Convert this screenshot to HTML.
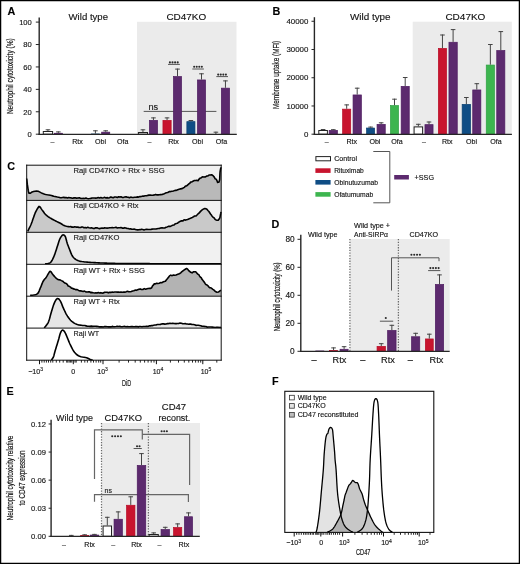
<!DOCTYPE html>
<html><head><meta charset="utf-8"><style>
html,body{margin:0;padding:0;background:#fff;}
svg{display:block;font-family:"Liberation Sans", sans-serif;}
text{stroke:#1a1a1a;stroke-width:0.14px;}
text.s{stroke-width:0.2px;}
text.n{stroke:none;}
svg{will-change:transform;}
</style></head><body>
<svg width="520" height="564" viewBox="0 0 520 564">
<rect x="0" y="0" width="520" height="564" fill="#fff"/>
<text x="7.4" y="14.6" font-size="10.8" text-anchor="start" font-weight="bold" fill="#000">A</text>
<rect x="137.00" y="21.80" width="99.50" height="112.60" fill="#ebebeb"/>
<text x="88.3" y="19.9" font-size="9.8" text-anchor="middle" font-weight="normal" fill="#111" textLength="39.5" lengthAdjust="spacingAndGlyphs">Wild type</text>
<text x="186.3" y="19.8" font-size="9.8" text-anchor="middle" font-weight="normal" fill="#111" textLength="39.8" lengthAdjust="spacingAndGlyphs">CD47KO</text>
<text class="s" transform="translate(12.9,76.2) rotate(-90) scale(0.7471,1)" x="0" y="0" font-size="8.8" text-anchor="middle" fill="#111">Neutrophil cytotoxicity (%)</text>
<line x1="35.8" y1="134.20" x2="39.5" y2="134.20" stroke="#262626" stroke-width="1"/>
<text x="31.8" y="137.00" font-size="7.6" text-anchor="end" font-weight="normal" fill="#111">0</text>
<line x1="35.8" y1="111.78" x2="39.5" y2="111.78" stroke="#262626" stroke-width="1"/>
<text x="31.8" y="114.58" font-size="7.6" text-anchor="end" font-weight="normal" fill="#111">20</text>
<line x1="35.8" y1="89.36" x2="39.5" y2="89.36" stroke="#262626" stroke-width="1"/>
<text x="31.8" y="92.16" font-size="7.6" text-anchor="end" font-weight="normal" fill="#111">40</text>
<line x1="35.8" y1="66.94" x2="39.5" y2="66.94" stroke="#262626" stroke-width="1"/>
<text x="31.8" y="69.74" font-size="7.6" text-anchor="end" font-weight="normal" fill="#111">60</text>
<line x1="35.8" y1="44.52" x2="39.5" y2="44.52" stroke="#262626" stroke-width="1"/>
<text x="31.8" y="47.32" font-size="7.6" text-anchor="end" font-weight="normal" fill="#111">80</text>
<line x1="35.8" y1="22.10" x2="39.5" y2="22.10" stroke="#262626" stroke-width="1"/>
<text x="31.8" y="24.90" font-size="7.6" text-anchor="end" font-weight="normal" fill="#111">100</text>
<line x1="143.7" y1="111.4" x2="216.4" y2="111.4" stroke="#555" stroke-width="1"/>
<rect x="43.30" y="131.50" width="9.30" height="2.70" fill="#fff" stroke="#222" stroke-width="1"/>
<line x1="47.95" y1="129.30" x2="47.95" y2="131.00" stroke="#444" stroke-width="1"/>
<line x1="45.65" y1="129.80" x2="50.25" y2="129.80" stroke="#444" stroke-width="1"/>
<rect x="54.25" y="133.25" width="8.20" height="0.95" fill="#5c2a6e" stroke="#4e1c60" stroke-width="0.7"/>
<line x1="58.35" y1="131.40" x2="58.35" y2="132.90" stroke="#444" stroke-width="1"/>
<line x1="56.05" y1="131.90" x2="60.65" y2="131.90" stroke="#444" stroke-width="1"/>
<rect x="91.35" y="133.95" width="8.10" height="0.25" fill="#0f4d85" stroke="#0a4070" stroke-width="0.7"/>
<line x1="95.40" y1="130.30" x2="95.40" y2="133.60" stroke="#444" stroke-width="1"/>
<line x1="93.10" y1="130.80" x2="97.70" y2="130.80" stroke="#444" stroke-width="1"/>
<rect x="101.65" y="132.15" width="8.10" height="2.05" fill="#5c2a6e" stroke="#4e1c60" stroke-width="0.7"/>
<line x1="105.70" y1="130.30" x2="105.70" y2="131.80" stroke="#444" stroke-width="1"/>
<line x1="103.40" y1="130.80" x2="108.00" y2="130.80" stroke="#444" stroke-width="1"/>
<rect x="138.40" y="132.50" width="9.10" height="1.70" fill="#fff" stroke="#222" stroke-width="1"/>
<line x1="142.95" y1="129.30" x2="142.95" y2="132.00" stroke="#444" stroke-width="1"/>
<line x1="140.65" y1="129.80" x2="145.25" y2="129.80" stroke="#444" stroke-width="1"/>
<rect x="149.35" y="120.35" width="8.20" height="13.85" fill="#5c2a6e" stroke="#4e1c60" stroke-width="0.7"/>
<line x1="153.45" y1="117.40" x2="153.45" y2="120.00" stroke="#444" stroke-width="1"/>
<line x1="151.15" y1="117.90" x2="155.75" y2="117.90" stroke="#444" stroke-width="1"/>
<rect x="162.95" y="120.35" width="8.20" height="13.85" fill="#c8142e" stroke="#b80c26" stroke-width="0.7"/>
<line x1="167.05" y1="117.40" x2="167.05" y2="120.00" stroke="#444" stroke-width="1"/>
<line x1="164.75" y1="117.90" x2="169.35" y2="117.90" stroke="#444" stroke-width="1"/>
<rect x="173.45" y="76.55" width="8.10" height="57.65" fill="#5c2a6e" stroke="#4e1c60" stroke-width="0.7"/>
<line x1="177.50" y1="68.60" x2="177.50" y2="76.20" stroke="#444" stroke-width="1"/>
<line x1="175.20" y1="69.10" x2="179.80" y2="69.10" stroke="#444" stroke-width="1"/>
<rect x="186.85" y="121.65" width="8.10" height="12.55" fill="#0f4d85" stroke="#0a4070" stroke-width="0.7"/>
<line x1="190.90" y1="120.00" x2="190.90" y2="121.30" stroke="#444" stroke-width="1"/>
<line x1="188.60" y1="120.50" x2="193.20" y2="120.50" stroke="#444" stroke-width="1"/>
<rect x="197.45" y="79.95" width="8.10" height="54.25" fill="#5c2a6e" stroke="#4e1c60" stroke-width="0.7"/>
<line x1="201.50" y1="73.30" x2="201.50" y2="79.60" stroke="#444" stroke-width="1"/>
<line x1="199.20" y1="73.80" x2="203.80" y2="73.80" stroke="#444" stroke-width="1"/>
<line x1="215.90" y1="131.70" x2="215.90" y2="134.20" stroke="#444" stroke-width="1"/>
<line x1="213.60" y1="132.20" x2="218.20" y2="132.20" stroke="#444" stroke-width="1"/>
<rect x="221.35" y="88.15" width="8.20" height="46.05" fill="#5c2a6e" stroke="#4e1c60" stroke-width="0.7"/>
<line x1="225.45" y1="80.40" x2="225.45" y2="87.80" stroke="#444" stroke-width="1"/>
<line x1="223.15" y1="80.90" x2="227.75" y2="80.90" stroke="#444" stroke-width="1"/>
<line x1="39.2" y1="17.6" x2="39.2" y2="134.9" stroke="#262626" stroke-width="1.4"/>
<line x1="38.5" y1="134.4" x2="236.8" y2="134.4" stroke="#262626" stroke-width="1.3"/>
<text x="52.6" y="143.8" font-size="7.1" text-anchor="middle" font-weight="normal" fill="#111">–</text>
<text x="77.5" y="143.8" font-size="7.1" text-anchor="middle" font-weight="normal" fill="#111">Rtx</text>
<text x="100.6" y="143.8" font-size="7.1" text-anchor="middle" font-weight="normal" fill="#111">Obi</text>
<text x="122.8" y="143.8" font-size="7.1" text-anchor="middle" font-weight="normal" fill="#111">Ofa</text>
<text x="149.5" y="143.8" font-size="7.1" text-anchor="middle" font-weight="normal" fill="#111">–</text>
<text x="173.5" y="143.8" font-size="7.1" text-anchor="middle" font-weight="normal" fill="#111">Rtx</text>
<text x="197.5" y="143.8" font-size="7.1" text-anchor="middle" font-weight="normal" fill="#111">Obi</text>
<text x="221.5" y="143.8" font-size="7.1" text-anchor="middle" font-weight="normal" fill="#111">Ofa</text>
<text x="153.3" y="110" font-size="9.2" text-anchor="middle" font-weight="normal" fill="#222">ns</text>
<circle cx="169.90" cy="62.40" r="1.05" fill="#2a2a2a"/>
<circle cx="172.50" cy="62.40" r="1.05" fill="#2a2a2a"/>
<circle cx="175.10" cy="62.40" r="1.05" fill="#2a2a2a"/>
<circle cx="177.70" cy="62.40" r="1.05" fill="#2a2a2a"/>
<line x1="168.00" y1="64.4" x2="179.90" y2="64.4" stroke="#555" stroke-width="1"/>
<circle cx="194.18" cy="66.70" r="1.05" fill="#2a2a2a"/>
<circle cx="196.72" cy="66.70" r="1.05" fill="#2a2a2a"/>
<circle cx="199.28" cy="66.70" r="1.05" fill="#2a2a2a"/>
<circle cx="201.82" cy="66.70" r="1.05" fill="#2a2a2a"/>
<line x1="192.30" y1="69.0" x2="203.90" y2="69.0" stroke="#555" stroke-width="1"/>
<circle cx="218.19" cy="74.60" r="1.05" fill="#2a2a2a"/>
<circle cx="220.76" cy="74.60" r="1.05" fill="#2a2a2a"/>
<circle cx="223.34" cy="74.60" r="1.05" fill="#2a2a2a"/>
<circle cx="225.91" cy="74.60" r="1.05" fill="#2a2a2a"/>
<line x1="216.30" y1="76.6" x2="228.00" y2="76.6" stroke="#555" stroke-width="1"/>
<text x="272.6" y="14.5" font-size="10.8" text-anchor="start" font-weight="bold" fill="#000">B</text>
<rect x="412.70" y="21.70" width="99.10" height="112.70" fill="#ebebeb"/>
<text x="370.3" y="19.8" font-size="9.8" text-anchor="middle" font-weight="normal" fill="#111" textLength="40.6" lengthAdjust="spacingAndGlyphs">Wild type</text>
<text x="465.4" y="19.8" font-size="9.8" text-anchor="middle" font-weight="normal" fill="#111" textLength="40.0" lengthAdjust="spacingAndGlyphs">CD47KO</text>
<text class="s" transform="translate(279.1,74.9) rotate(-90) scale(0.7236,1)" x="0" y="0" font-size="8.8" text-anchor="middle" fill="#111">Membrane uptake (MFI)</text>
<line x1="311.5" y1="134.20" x2="314.8" y2="134.20" stroke="#262626" stroke-width="1"/>
<text x="308.4" y="136.80" font-size="7.9" text-anchor="end" font-weight="normal" fill="#111">0</text>
<line x1="311.5" y1="105.97" x2="314.8" y2="105.97" stroke="#262626" stroke-width="1"/>
<text x="308.4" y="108.57" font-size="7.9" text-anchor="end" font-weight="normal" fill="#111">10000</text>
<line x1="311.5" y1="77.74" x2="314.8" y2="77.74" stroke="#262626" stroke-width="1"/>
<text x="308.4" y="80.34" font-size="7.9" text-anchor="end" font-weight="normal" fill="#111">20000</text>
<line x1="311.5" y1="49.51" x2="314.8" y2="49.51" stroke="#262626" stroke-width="1"/>
<text x="308.4" y="52.11" font-size="7.9" text-anchor="end" font-weight="normal" fill="#111">30000</text>
<line x1="311.5" y1="21.28" x2="314.8" y2="21.28" stroke="#262626" stroke-width="1"/>
<text x="308.4" y="23.88" font-size="7.9" text-anchor="end" font-weight="normal" fill="#111">40000</text>
<rect x="318.80" y="130.50" width="8.60" height="3.70" fill="#fff" stroke="#222" stroke-width="1"/>
<line x1="323.10" y1="129.00" x2="323.10" y2="130.00" stroke="#444" stroke-width="1"/>
<line x1="320.80" y1="129.50" x2="325.40" y2="129.50" stroke="#444" stroke-width="1"/>
<rect x="329.15" y="130.35" width="8.30" height="3.85" fill="#5c2a6e" stroke="#4e1c60" stroke-width="0.7"/>
<line x1="333.30" y1="129.20" x2="333.30" y2="130.00" stroke="#444" stroke-width="1"/>
<line x1="331.00" y1="129.70" x2="335.60" y2="129.70" stroke="#444" stroke-width="1"/>
<rect x="342.65" y="109.15" width="8.10" height="25.05" fill="#c8142e" stroke="#b80c26" stroke-width="0.7"/>
<line x1="346.70" y1="104.40" x2="346.70" y2="108.80" stroke="#444" stroke-width="1"/>
<line x1="344.40" y1="104.90" x2="349.00" y2="104.90" stroke="#444" stroke-width="1"/>
<rect x="353.05" y="94.95" width="8.30" height="39.25" fill="#5c2a6e" stroke="#4e1c60" stroke-width="0.7"/>
<line x1="357.20" y1="87.70" x2="357.20" y2="94.60" stroke="#444" stroke-width="1"/>
<line x1="354.90" y1="88.20" x2="359.50" y2="88.20" stroke="#444" stroke-width="1"/>
<rect x="366.55" y="128.05" width="8.10" height="6.15" fill="#0f4d85" stroke="#0a4070" stroke-width="0.7"/>
<line x1="370.60" y1="126.60" x2="370.60" y2="127.70" stroke="#444" stroke-width="1"/>
<line x1="368.30" y1="127.10" x2="372.90" y2="127.10" stroke="#444" stroke-width="1"/>
<rect x="377.05" y="124.35" width="8.20" height="9.85" fill="#5c2a6e" stroke="#4e1c60" stroke-width="0.7"/>
<line x1="381.15" y1="122.30" x2="381.15" y2="124.00" stroke="#444" stroke-width="1"/>
<line x1="378.85" y1="122.80" x2="383.45" y2="122.80" stroke="#444" stroke-width="1"/>
<rect x="390.45" y="105.55" width="8.10" height="28.65" fill="#3db54f" stroke="#2fa043" stroke-width="0.7"/>
<line x1="394.50" y1="98.70" x2="394.50" y2="105.20" stroke="#444" stroke-width="1"/>
<line x1="392.20" y1="99.20" x2="396.80" y2="99.20" stroke="#444" stroke-width="1"/>
<rect x="401.15" y="86.35" width="8.10" height="47.85" fill="#5c2a6e" stroke="#4e1c60" stroke-width="0.7"/>
<line x1="405.20" y1="77.00" x2="405.20" y2="86.00" stroke="#444" stroke-width="1"/>
<line x1="402.90" y1="77.50" x2="407.50" y2="77.50" stroke="#444" stroke-width="1"/>
<rect x="414.10" y="126.90" width="8.50" height="7.30" fill="#fff" stroke="#222" stroke-width="1"/>
<line x1="418.35" y1="123.80" x2="418.35" y2="126.40" stroke="#444" stroke-width="1"/>
<line x1="416.05" y1="124.30" x2="420.65" y2="124.30" stroke="#444" stroke-width="1"/>
<rect x="424.95" y="124.65" width="8.10" height="9.55" fill="#5c2a6e" stroke="#4e1c60" stroke-width="0.7"/>
<line x1="429.00" y1="121.50" x2="429.00" y2="124.30" stroke="#444" stroke-width="1"/>
<line x1="426.70" y1="122.00" x2="431.30" y2="122.00" stroke="#444" stroke-width="1"/>
<rect x="438.35" y="48.45" width="8.20" height="85.75" fill="#c8142e" stroke="#b80c26" stroke-width="0.7"/>
<line x1="442.45" y1="34.50" x2="442.45" y2="48.10" stroke="#444" stroke-width="1"/>
<line x1="440.15" y1="35.00" x2="444.75" y2="35.00" stroke="#444" stroke-width="1"/>
<rect x="448.95" y="42.25" width="8.30" height="91.95" fill="#5c2a6e" stroke="#4e1c60" stroke-width="0.7"/>
<line x1="453.10" y1="29.10" x2="453.10" y2="41.90" stroke="#444" stroke-width="1"/>
<line x1="450.80" y1="29.60" x2="455.40" y2="29.60" stroke="#444" stroke-width="1"/>
<rect x="462.15" y="104.35" width="8.40" height="29.85" fill="#0f4d85" stroke="#0a4070" stroke-width="0.7"/>
<line x1="466.35" y1="97.00" x2="466.35" y2="104.00" stroke="#444" stroke-width="1"/>
<line x1="464.05" y1="97.50" x2="468.65" y2="97.50" stroke="#444" stroke-width="1"/>
<rect x="472.75" y="89.95" width="8.10" height="44.25" fill="#5c2a6e" stroke="#4e1c60" stroke-width="0.7"/>
<line x1="476.80" y1="83.20" x2="476.80" y2="89.60" stroke="#444" stroke-width="1"/>
<line x1="474.50" y1="83.70" x2="479.10" y2="83.70" stroke="#444" stroke-width="1"/>
<rect x="486.25" y="65.05" width="8.20" height="69.15" fill="#3db54f" stroke="#2fa043" stroke-width="0.7"/>
<line x1="490.35" y1="44.00" x2="490.35" y2="64.70" stroke="#444" stroke-width="1"/>
<line x1="488.05" y1="44.50" x2="492.65" y2="44.50" stroke="#444" stroke-width="1"/>
<rect x="496.75" y="50.55" width="8.10" height="83.65" fill="#5c2a6e" stroke="#4e1c60" stroke-width="0.7"/>
<line x1="500.80" y1="31.10" x2="500.80" y2="50.20" stroke="#444" stroke-width="1"/>
<line x1="498.50" y1="31.60" x2="503.10" y2="31.60" stroke="#444" stroke-width="1"/>
<line x1="314.4" y1="17.2" x2="314.4" y2="134.9" stroke="#262626" stroke-width="1.4"/>
<line x1="313.7" y1="134.4" x2="511.9" y2="134.4" stroke="#262626" stroke-width="1.3"/>
<text x="326.7" y="143.5" font-size="7.1" text-anchor="middle" font-weight="normal" fill="#111">–</text>
<text x="351.8" y="143.5" font-size="7.1" text-anchor="middle" font-weight="normal" fill="#111">Rtx</text>
<text x="374.9" y="143.5" font-size="7.1" text-anchor="middle" font-weight="normal" fill="#111">Obi</text>
<text x="397.0" y="143.5" font-size="7.1" text-anchor="middle" font-weight="normal" fill="#111">Ofa</text>
<text x="424.0" y="143.5" font-size="7.1" text-anchor="middle" font-weight="normal" fill="#111">–</text>
<text x="447.2" y="143.5" font-size="7.1" text-anchor="middle" font-weight="normal" fill="#111">Rtx</text>
<text x="471.5" y="143.5" font-size="7.1" text-anchor="middle" font-weight="normal" fill="#111">Obi</text>
<text x="495.9" y="143.5" font-size="7.1" text-anchor="middle" font-weight="normal" fill="#111">Ofa</text>
<rect x="315.9" y="156.6" width="14.6" height="4.2" fill="#fff" stroke="#222" stroke-width="1"/>
<rect x="315.40" y="168.30" width="15.20" height="4.60" fill="#c8142e"/>
<rect x="315.40" y="180.00" width="15.20" height="4.60" fill="#0f4d85"/>
<rect x="315.40" y="192.10" width="15.20" height="4.60" fill="#3db54f"/>
<text x="334.2" y="161.1" font-size="6.9" text-anchor="start" font-weight="normal" fill="#111" textLength="22.9" lengthAdjust="spacingAndGlyphs">Control</text>
<text x="334.2" y="173.2" font-size="6.9" text-anchor="start" font-weight="normal" fill="#111" textLength="29.6" lengthAdjust="spacingAndGlyphs">Rituximab</text>
<text x="334.2" y="185.3" font-size="6.9" text-anchor="start" font-weight="normal" fill="#111" textLength="43.8" lengthAdjust="spacingAndGlyphs">Obinutuzumab</text>
<text x="334.2" y="196.9" font-size="6.9" text-anchor="start" font-weight="normal" fill="#111" textLength="39.1" lengthAdjust="spacingAndGlyphs">Ofatumumab</text>
<polyline points="373.3,151.5 389.8,151.5 389.8,202.8 373.3,202.8" fill="none" stroke="#555" stroke-width="1"/>
<rect x="394.20" y="175.00" width="14.70" height="4.50" fill="#5c2a6e"/>
<text x="414.6" y="180.2" font-size="6.9" text-anchor="start" font-weight="normal" fill="#111" textLength="19.4" lengthAdjust="spacingAndGlyphs">+SSG</text>
<text x="7.2" y="169.5" font-size="10.8" text-anchor="start" font-weight="bold" fill="#000">C</text>
<rect x="26.70" y="165.20" width="194.50" height="35.20" fill="#f1f1f1"/>
<polygon points="26.70,200.4 26.70,178.50 26.79,179.32 26.91,180.45 27.06,181.79 27.22,183.24 27.40,184.67 27.60,186.00 27.80,187.33 28.00,188.77 28.22,190.21 28.47,191.52 28.76,192.59 29.10,193.30 30.51,193.10 32.10,191.90 33.54,191.46 35.00,191.20 36.53,191.08 38.20,191.30 39.48,191.86 40.85,192.62 42.20,193.30 43.46,193.77 44.70,194.16 46.00,194.50 47.38,194.78 48.82,195.02 50.30,195.30 51.43,195.58 52.58,195.89 53.77,196.21 55.00,196.50 56.20,196.76 57.39,197.00 58.74,197.22 60.40,197.71 61.39,197.71 62.48,197.47 63.65,197.38 64.88,197.65 66.14,197.60 67.43,197.98 68.72,197.59 70.00,197.78 71.28,197.91 72.59,198.23 73.92,197.89 75.27,197.70 76.62,198.15 77.96,198.05 79.29,197.74 80.60,198.37 81.91,198.48 83.25,198.39 84.59,198.55 85.92,198.09 87.21,198.54 88.45,198.74 89.62,198.57 90.70,198.37 92.18,197.94 93.42,198.06 94.55,198.01 95.70,198.09 97.00,198.02 98.22,197.56 99.51,197.94 100.84,197.46 102.19,198.02 103.52,197.83 104.80,197.36 106.01,197.97 107.18,197.62 108.32,197.93 109.49,197.71 110.70,197.02 112.00,197.39 113.23,197.67 114.56,197.04 115.94,197.04 117.33,197.46 118.67,196.79 119.91,197.09 121.00,196.76 122.51,197.43 123.68,197.34 124.77,197.09 126.00,196.82 127.12,197.10 128.27,197.34 129.48,197.79 130.75,197.08 132.10,197.45 133.28,197.50 134.51,197.24 135.79,197.32 137.12,196.90 138.52,197.10 140.00,196.59 141.17,196.44 142.41,196.17 143.70,196.15 145.01,195.80 146.35,195.82 147.68,195.40 149.01,195.16 150.30,195.02 151.61,195.27 152.97,195.18 154.34,194.89 155.71,194.42 157.02,194.90 158.27,194.88 159.40,194.80 160.40,194.61 162.31,194.36 163.60,194.09 165.00,193.34 166.34,192.75 167.76,192.48 169.17,191.55 170.50,191.58 172.03,191.23 173.46,191.00 175.00,190.38 176.31,190.38 177.71,189.69 179.15,189.16 180.60,188.84 181.80,188.66 183.06,188.04 184.32,187.34 185.52,186.07 186.60,185.90 187.80,184.87 188.88,183.98 189.85,183.22 190.70,181.97 191.94,181.91 193.00,181.16 194.35,180.54 195.70,180.47 196.84,180.29 198.00,180.78 198.88,179.39 199.82,178.35 200.80,177.98 202.40,176.88 204.00,177.07 205.46,176.85 206.80,176.03 207.92,175.91 209.00,175.07 210.26,175.03 211.50,174.70 212.50,175.26 213.50,176.20 214.30,177.14 215.16,178.82 216.00,179.08 216.82,180.30 217.62,182.37 218.30,182.32 219.01,181.94 219.50,180.24 219.62,179.85 219.72,178.79 219.80,176.61 219.87,175.56 219.95,173.89 220.02,172.79 220.10,171.75 220.41,169.88 220.70,168.37 220.99,167.74 221.20,168.00 221.20,200.4" fill="#b9b9b9"/>
<polyline points="26.70,178.50 26.79,179.32 26.91,180.45 27.06,181.79 27.22,183.24 27.40,184.67 27.60,186.00 27.80,187.33 28.00,188.77 28.22,190.21 28.47,191.52 28.76,192.59 29.10,193.30 30.51,193.10 32.10,191.90 33.54,191.46 35.00,191.20 36.53,191.08 38.20,191.30 39.48,191.86 40.85,192.62 42.20,193.30 43.46,193.77 44.70,194.16 46.00,194.50 47.38,194.78 48.82,195.02 50.30,195.30 51.43,195.58 52.58,195.89 53.77,196.21 55.00,196.50 56.20,196.76 57.39,197.00 58.74,197.22 60.40,197.71 61.39,197.71 62.48,197.47 63.65,197.38 64.88,197.65 66.14,197.60 67.43,197.98 68.72,197.59 70.00,197.78 71.28,197.91 72.59,198.23 73.92,197.89 75.27,197.70 76.62,198.15 77.96,198.05 79.29,197.74 80.60,198.37 81.91,198.48 83.25,198.39 84.59,198.55 85.92,198.09 87.21,198.54 88.45,198.74 89.62,198.57 90.70,198.37 92.18,197.94 93.42,198.06 94.55,198.01 95.70,198.09 97.00,198.02 98.22,197.56 99.51,197.94 100.84,197.46 102.19,198.02 103.52,197.83 104.80,197.36 106.01,197.97 107.18,197.62 108.32,197.93 109.49,197.71 110.70,197.02 112.00,197.39 113.23,197.67 114.56,197.04 115.94,197.04 117.33,197.46 118.67,196.79 119.91,197.09 121.00,196.76 122.51,197.43 123.68,197.34 124.77,197.09 126.00,196.82 127.12,197.10 128.27,197.34 129.48,197.79 130.75,197.08 132.10,197.45 133.28,197.50 134.51,197.24 135.79,197.32 137.12,196.90 138.52,197.10 140.00,196.59 141.17,196.44 142.41,196.17 143.70,196.15 145.01,195.80 146.35,195.82 147.68,195.40 149.01,195.16 150.30,195.02 151.61,195.27 152.97,195.18 154.34,194.89 155.71,194.42 157.02,194.90 158.27,194.88 159.40,194.80 160.40,194.61 162.31,194.36 163.60,194.09 165.00,193.34 166.34,192.75 167.76,192.48 169.17,191.55 170.50,191.58 172.03,191.23 173.46,191.00 175.00,190.38 176.31,190.38 177.71,189.69 179.15,189.16 180.60,188.84 181.80,188.66 183.06,188.04 184.32,187.34 185.52,186.07 186.60,185.90 187.80,184.87 188.88,183.98 189.85,183.22 190.70,181.97 191.94,181.91 193.00,181.16 194.35,180.54 195.70,180.47 196.84,180.29 198.00,180.78 198.88,179.39 199.82,178.35 200.80,177.98 202.40,176.88 204.00,177.07 205.46,176.85 206.80,176.03 207.92,175.91 209.00,175.07 210.26,175.03 211.50,174.70 212.50,175.26 213.50,176.20 214.30,177.14 215.16,178.82 216.00,179.08 216.82,180.30 217.62,182.37 218.30,182.32 219.01,181.94 219.50,180.24 219.62,179.85 219.72,178.79 219.80,176.61 219.87,175.56 219.95,173.89 220.02,172.79 220.10,171.75 220.41,169.88 220.70,168.37 220.99,167.74 221.20,168.00" fill="none" stroke="#000" stroke-width="1.6" stroke-linejoin="round"/>
<text x="73.6" y="172.5" font-size="7.5" text-anchor="start" font-weight="normal" fill="#1a1a1a" textLength="91" lengthAdjust="spacingAndGlyphs">Raji CD47KO + Rtx + SSG</text>
<rect x="26.70" y="200.40" width="194.50" height="31.90" fill="#f1f1f1"/>
<polygon points="27.70,232.3 27.70,231.30 28.06,230.59 28.56,229.64 29.15,228.49 29.80,227.20 30.46,225.78 31.10,224.30 31.52,223.22 31.97,222.01 32.42,220.70 32.89,219.35 33.35,217.99 33.81,216.65 34.26,215.38 34.69,214.22 35.10,213.20 35.80,211.64 36.49,210.31 37.13,209.18 37.70,208.25 38.20,207.50 38.93,206.42 39.60,206.50 40.32,207.30 41.18,208.62 42.20,210.10 42.89,211.04 43.64,212.08 44.45,213.17 45.33,214.23 46.30,215.20 47.17,215.93 48.08,216.61 49.05,217.26 50.07,217.90 51.16,218.54 52.30,219.20 53.37,219.79 54.52,220.40 55.73,221.01 56.97,221.61 58.18,222.21 59.33,222.77 60.40,223.30 61.60,224.00 62.56,224.68 63.51,225.30 64.71,225.85 66.40,226.30 67.36,226.47 68.40,226.60 69.52,226.72 70.71,226.52 71.96,227.17 73.28,227.17 74.65,226.82 76.07,227.08 77.54,227.10 79.05,227.34 80.60,227.53 81.70,227.04 82.84,227.06 84.02,227.78 85.23,227.53 86.47,227.88 87.74,227.35 89.02,227.78 90.32,228.08 91.64,227.76 92.96,228.40 94.29,228.43 95.61,227.79 96.93,227.83 98.23,228.28 99.53,228.63 100.80,228.20 102.06,228.07 103.33,228.22 104.60,227.87 105.87,227.98 107.15,228.09 108.42,228.07 109.69,227.79 110.96,227.72 112.23,227.64 113.50,227.77 114.76,227.58 116.02,227.32 117.27,227.94 118.52,227.71 119.76,227.78 121.00,227.45 122.23,228.15 123.44,228.14 124.65,227.66 125.85,227.96 127.04,228.42 128.23,228.58 129.42,228.93 130.60,228.69 131.78,229.18 132.97,229.22 134.16,229.08 135.35,229.45 136.55,229.80 137.76,229.87 138.97,229.67 140.20,229.77 141.45,229.34 142.73,229.49 144.04,229.91 145.37,229.56 146.71,229.31 148.06,229.53 149.40,229.57 150.74,229.45 152.07,229.11 153.37,229.04 154.65,228.98 155.90,229.06 157.10,228.73 158.26,228.49 159.36,228.43 160.40,227.92 161.96,227.70 163.40,227.98 164.75,227.94 166.02,227.34 167.21,226.88 168.34,226.39 169.42,226.33 170.47,226.38 171.49,225.86 172.50,225.33 173.87,225.06 175.11,223.97 176.25,223.59 177.34,223.32 178.40,222.42 179.48,221.77 180.60,221.12 181.76,220.91 182.92,220.87 184.08,219.79 185.24,220.10 186.39,219.81 187.55,219.51 188.70,218.99 189.88,218.59 191.11,217.88 192.34,217.40 193.55,216.77 194.70,215.93 195.76,216.04 196.70,215.26 198.00,213.96 198.99,213.15 199.87,212.11 200.80,211.09 201.83,210.17 202.86,209.42 203.88,208.82 204.90,208.59 205.91,208.83 206.91,209.29 207.90,210.50 208.90,211.54 209.71,212.79 210.54,214.06 211.36,215.10 212.16,216.14 212.90,217.05 214.03,217.83 215.07,219.31 216.00,219.94 217.19,220.25 218.20,220.21 219.12,219.06 219.90,217.70 220.24,215.96 220.56,214.24 220.82,213.14 221.00,211.88 221.00,232.3" fill="#c9c9c9"/>
<polyline points="27.70,231.30 28.06,230.59 28.56,229.64 29.15,228.49 29.80,227.20 30.46,225.78 31.10,224.30 31.52,223.22 31.97,222.01 32.42,220.70 32.89,219.35 33.35,217.99 33.81,216.65 34.26,215.38 34.69,214.22 35.10,213.20 35.80,211.64 36.49,210.31 37.13,209.18 37.70,208.25 38.20,207.50 38.93,206.42 39.60,206.50 40.32,207.30 41.18,208.62 42.20,210.10 42.89,211.04 43.64,212.08 44.45,213.17 45.33,214.23 46.30,215.20 47.17,215.93 48.08,216.61 49.05,217.26 50.07,217.90 51.16,218.54 52.30,219.20 53.37,219.79 54.52,220.40 55.73,221.01 56.97,221.61 58.18,222.21 59.33,222.77 60.40,223.30 61.60,224.00 62.56,224.68 63.51,225.30 64.71,225.85 66.40,226.30 67.36,226.47 68.40,226.60 69.52,226.72 70.71,226.52 71.96,227.17 73.28,227.17 74.65,226.82 76.07,227.08 77.54,227.10 79.05,227.34 80.60,227.53 81.70,227.04 82.84,227.06 84.02,227.78 85.23,227.53 86.47,227.88 87.74,227.35 89.02,227.78 90.32,228.08 91.64,227.76 92.96,228.40 94.29,228.43 95.61,227.79 96.93,227.83 98.23,228.28 99.53,228.63 100.80,228.20 102.06,228.07 103.33,228.22 104.60,227.87 105.87,227.98 107.15,228.09 108.42,228.07 109.69,227.79 110.96,227.72 112.23,227.64 113.50,227.77 114.76,227.58 116.02,227.32 117.27,227.94 118.52,227.71 119.76,227.78 121.00,227.45 122.23,228.15 123.44,228.14 124.65,227.66 125.85,227.96 127.04,228.42 128.23,228.58 129.42,228.93 130.60,228.69 131.78,229.18 132.97,229.22 134.16,229.08 135.35,229.45 136.55,229.80 137.76,229.87 138.97,229.67 140.20,229.77 141.45,229.34 142.73,229.49 144.04,229.91 145.37,229.56 146.71,229.31 148.06,229.53 149.40,229.57 150.74,229.45 152.07,229.11 153.37,229.04 154.65,228.98 155.90,229.06 157.10,228.73 158.26,228.49 159.36,228.43 160.40,227.92 161.96,227.70 163.40,227.98 164.75,227.94 166.02,227.34 167.21,226.88 168.34,226.39 169.42,226.33 170.47,226.38 171.49,225.86 172.50,225.33 173.87,225.06 175.11,223.97 176.25,223.59 177.34,223.32 178.40,222.42 179.48,221.77 180.60,221.12 181.76,220.91 182.92,220.87 184.08,219.79 185.24,220.10 186.39,219.81 187.55,219.51 188.70,218.99 189.88,218.59 191.11,217.88 192.34,217.40 193.55,216.77 194.70,215.93 195.76,216.04 196.70,215.26 198.00,213.96 198.99,213.15 199.87,212.11 200.80,211.09 201.83,210.17 202.86,209.42 203.88,208.82 204.90,208.59 205.91,208.83 206.91,209.29 207.90,210.50 208.90,211.54 209.71,212.79 210.54,214.06 211.36,215.10 212.16,216.14 212.90,217.05 214.03,217.83 215.07,219.31 216.00,219.94 217.19,220.25 218.20,220.21 219.12,219.06 219.90,217.70 220.24,215.96 220.56,214.24 220.82,213.14 221.00,211.88" fill="none" stroke="#000" stroke-width="1.6" stroke-linejoin="round"/>
<text x="73.6" y="207.8" font-size="7.5" text-anchor="start" font-weight="normal" fill="#1a1a1a" textLength="65" lengthAdjust="spacingAndGlyphs">Raji CD47KO + Rtx</text>
<rect x="26.70" y="232.30" width="194.50" height="32.00" fill="#f1f1f1"/>
<polygon points="45.00,264.3 45.00,264.00 46.01,263.88 47.46,263.73 49.04,263.37 50.40,262.60 51.13,261.79 51.81,260.79 52.44,259.64 53.04,258.37 53.63,257.05 54.20,255.70 54.63,254.65 55.04,253.51 55.45,252.32 55.84,251.11 56.23,249.89 56.60,248.70 56.96,247.56 57.30,246.50 57.73,245.17 58.13,243.89 58.50,242.66 58.86,241.51 59.23,240.46 59.60,239.50 60.39,237.89 61.19,236.63 61.90,235.70 62.73,234.96 63.50,234.90 64.38,235.22 65.30,236.50 65.68,237.55 66.07,238.92 66.47,240.44 66.88,241.99 67.30,243.40 67.73,244.66 68.16,245.85 68.61,247.03 69.08,248.24 69.60,249.50 70.05,250.65 70.52,251.89 71.01,253.14 71.53,254.37 72.09,255.51 72.70,256.50 73.71,257.73 74.81,258.74 76.00,259.59 77.30,260.30 78.37,260.76 79.45,261.10 80.62,261.36 81.95,261.58 83.50,261.80 84.62,261.94 85.86,262.06 87.18,262.16 88.56,262.26 89.98,262.35 91.41,262.44 92.83,262.52 94.20,262.60 95.32,262.67 96.32,262.73 97.27,262.79 98.21,262.84 99.22,262.89 100.34,262.94 101.64,262.99 103.18,263.05 105.00,263.10 105.85,263.13 106.63,263.15 107.35,263.18 108.04,263.20 108.70,263.23 109.38,263.26 110.07,263.29 110.81,263.31 111.61,263.34 112.49,263.37 113.47,263.40 114.57,263.42 115.80,263.45 117.20,263.47 118.78,263.50 120.55,263.52 122.54,263.54 124.76,263.56 127.24,263.58 130.00,263.60 130.79,263.60 131.62,263.61 132.49,263.61 133.40,263.62 134.34,263.62 135.31,263.63 136.32,263.63 137.36,263.64 138.43,263.64 139.53,263.64 140.66,263.65 141.81,263.65 142.99,263.65 144.20,263.66 145.43,263.66 146.69,263.67 147.96,263.67 149.26,263.67 150.57,263.68 151.91,263.68 153.26,263.68 154.63,263.69 156.01,263.69 157.41,263.69 158.81,263.70 160.24,263.70 161.67,263.70 163.11,263.71 164.56,263.71 166.02,263.71 167.48,263.71 168.95,263.72 170.42,263.72 171.89,263.72 173.37,263.72 174.85,263.73 176.32,263.73 177.80,263.73 179.27,263.73 180.74,263.74 182.20,263.74 183.66,263.74 185.11,263.74 186.55,263.75 187.98,263.75 189.41,263.75 190.82,263.75 192.21,263.76 193.60,263.76 194.96,263.76 196.31,263.76 197.65,263.76 198.97,263.77 200.26,263.77 201.54,263.77 202.79,263.77 204.02,263.77 205.23,263.77 206.41,263.78 207.57,263.78 208.70,263.78 209.80,263.78 210.87,263.78 211.91,263.78 212.91,263.79 213.89,263.79 214.83,263.79 215.74,263.79 216.61,263.79 217.44,263.79 218.23,263.79 218.99,263.80 219.70,263.80 220.37,263.80 221.00,263.80 221.00,264.3" fill="#d9d9d9"/>
<polyline points="45.00,264.00 46.01,263.88 47.46,263.73 49.04,263.37 50.40,262.60 51.13,261.79 51.81,260.79 52.44,259.64 53.04,258.37 53.63,257.05 54.20,255.70 54.63,254.65 55.04,253.51 55.45,252.32 55.84,251.11 56.23,249.89 56.60,248.70 56.96,247.56 57.30,246.50 57.73,245.17 58.13,243.89 58.50,242.66 58.86,241.51 59.23,240.46 59.60,239.50 60.39,237.89 61.19,236.63 61.90,235.70 62.73,234.96 63.50,234.90 64.38,235.22 65.30,236.50 65.68,237.55 66.07,238.92 66.47,240.44 66.88,241.99 67.30,243.40 67.73,244.66 68.16,245.85 68.61,247.03 69.08,248.24 69.60,249.50 70.05,250.65 70.52,251.89 71.01,253.14 71.53,254.37 72.09,255.51 72.70,256.50 73.71,257.73 74.81,258.74 76.00,259.59 77.30,260.30 78.37,260.76 79.45,261.10 80.62,261.36 81.95,261.58 83.50,261.80 84.62,261.94 85.86,262.06 87.18,262.16 88.56,262.26 89.98,262.35 91.41,262.44 92.83,262.52 94.20,262.60 95.32,262.67 96.32,262.73 97.27,262.79 98.21,262.84 99.22,262.89 100.34,262.94 101.64,262.99 103.18,263.05 105.00,263.10 105.85,263.13 106.63,263.15 107.35,263.18 108.04,263.20 108.70,263.23 109.38,263.26 110.07,263.29 110.81,263.31 111.61,263.34 112.49,263.37 113.47,263.40 114.57,263.42 115.80,263.45 117.20,263.47 118.78,263.50 120.55,263.52 122.54,263.54 124.76,263.56 127.24,263.58 130.00,263.60 130.79,263.60 131.62,263.61 132.49,263.61 133.40,263.62 134.34,263.62 135.31,263.63 136.32,263.63 137.36,263.64 138.43,263.64 139.53,263.64 140.66,263.65 141.81,263.65 142.99,263.65 144.20,263.66 145.43,263.66 146.69,263.67 147.96,263.67 149.26,263.67 150.57,263.68 151.91,263.68 153.26,263.68 154.63,263.69 156.01,263.69 157.41,263.69 158.81,263.70 160.24,263.70 161.67,263.70 163.11,263.71 164.56,263.71 166.02,263.71 167.48,263.71 168.95,263.72 170.42,263.72 171.89,263.72 173.37,263.72 174.85,263.73 176.32,263.73 177.80,263.73 179.27,263.73 180.74,263.74 182.20,263.74 183.66,263.74 185.11,263.74 186.55,263.75 187.98,263.75 189.41,263.75 190.82,263.75 192.21,263.76 193.60,263.76 194.96,263.76 196.31,263.76 197.65,263.76 198.97,263.77 200.26,263.77 201.54,263.77 202.79,263.77 204.02,263.77 205.23,263.77 206.41,263.78 207.57,263.78 208.70,263.78 209.80,263.78 210.87,263.78 211.91,263.78 212.91,263.79 213.89,263.79 214.83,263.79 215.74,263.79 216.61,263.79 217.44,263.79 218.23,263.79 218.99,263.80 219.70,263.80 220.37,263.80 221.00,263.80" fill="none" stroke="#000" stroke-width="1.6" stroke-linejoin="round"/>
<text x="73.6" y="239.7" font-size="7.5" text-anchor="start" font-weight="normal" fill="#1a1a1a" textLength="45.8" lengthAdjust="spacingAndGlyphs">Raji CD47KO</text>
<rect x="26.70" y="264.30" width="194.50" height="31.90" fill="#fff"/>
<polygon points="30.10,296.2 30.10,295.50 30.92,295.37 32.09,295.23 33.46,295.05 34.87,294.79 36.17,294.42 37.20,293.90 38.06,293.06 38.70,292.02 39.20,290.84 39.67,289.58 40.20,288.30 40.70,287.17 41.20,285.93 41.69,284.65 42.19,283.39 42.69,282.22 43.20,281.20 43.97,280.01 44.75,279.07 45.53,278.20 46.30,277.20 47.09,275.90 47.91,274.44 48.66,273.08 49.30,272.10 50.02,271.26 50.70,271.50 51.42,272.37 52.28,273.71 53.30,275.10 54.22,276.15 55.26,277.29 56.35,278.35 57.40,279.20 58.74,279.82 60.07,279.91 61.40,280.64 62.69,281.21 63.99,282.27 65.40,283.31 66.30,283.55 67.22,284.35 68.19,285.97 69.27,286.31 70.50,287.06 71.46,288.24 72.48,288.24 73.55,289.02 74.69,289.12 75.91,289.67 77.21,289.62 78.60,290.42 79.66,290.88 80.80,290.81 82.00,291.24 83.25,291.40 84.52,291.07 85.81,291.90 87.09,291.93 88.34,291.84 89.55,291.75 90.70,292.63 92.06,292.41 93.37,292.73 94.63,292.94 95.88,292.84 97.10,293.06 98.32,292.60 99.55,292.97 100.80,292.65 102.06,293.08 103.33,293.00 104.59,292.25 105.85,292.22 107.11,292.23 108.37,292.84 109.64,292.30 110.90,292.41 112.17,292.07 113.45,292.21 114.73,292.06 116.01,291.98 117.29,292.14 118.55,292.09 119.79,292.32 121.00,292.06 122.34,292.22 123.64,292.10 124.92,292.17 126.18,291.82 127.46,291.28 128.76,291.79 130.10,291.72 131.31,291.47 132.55,290.94 133.81,290.80 135.09,290.07 136.37,290.34 137.65,289.83 138.93,289.32 140.20,288.91 141.50,289.47 142.87,289.49 144.26,288.62 145.63,289.20 146.96,288.78 148.20,288.43 149.33,288.38 150.30,288.54 151.68,287.77 152.55,285.88 153.30,285.22 154.30,283.79 155.40,283.91 156.64,283.22 157.94,283.45 159.22,283.30 160.40,282.60 161.75,282.77 163.03,281.94 164.24,281.42 165.40,281.29 166.28,279.95 167.11,279.00 167.91,278.01 168.70,277.11 169.50,275.89 170.80,275.13 172.09,275.65 173.50,274.93 174.72,275.30 176.05,275.08 177.38,274.38 178.60,274.06 179.68,273.50 180.67,272.83 181.63,271.95 182.60,271.15 183.93,270.07 185.26,269.26 186.60,268.51 187.62,269.09 188.65,270.59 189.68,271.45 190.70,272.32 192.04,272.86 193.36,271.85 194.70,271.74 195.72,271.78 196.75,272.95 197.78,274.10 198.80,274.67 199.61,276.12 200.41,277.14 201.20,277.69 202.00,279.27 202.80,280.17 203.57,281.38 204.30,282.12 205.05,283.46 205.87,284.47 206.80,284.77 207.72,285.55 208.76,286.83 209.85,287.79 210.94,287.82 211.98,288.65 212.90,289.38 214.05,290.08 215.03,291.06 215.94,291.76 216.90,292.18 218.41,292.02 219.93,290.82 221.00,290.19 221.00,296.2" fill="#b3b3b3"/>
<polyline points="30.10,295.50 30.92,295.37 32.09,295.23 33.46,295.05 34.87,294.79 36.17,294.42 37.20,293.90 38.06,293.06 38.70,292.02 39.20,290.84 39.67,289.58 40.20,288.30 40.70,287.17 41.20,285.93 41.69,284.65 42.19,283.39 42.69,282.22 43.20,281.20 43.97,280.01 44.75,279.07 45.53,278.20 46.30,277.20 47.09,275.90 47.91,274.44 48.66,273.08 49.30,272.10 50.02,271.26 50.70,271.50 51.42,272.37 52.28,273.71 53.30,275.10 54.22,276.15 55.26,277.29 56.35,278.35 57.40,279.20 58.74,279.82 60.07,279.91 61.40,280.64 62.69,281.21 63.99,282.27 65.40,283.31 66.30,283.55 67.22,284.35 68.19,285.97 69.27,286.31 70.50,287.06 71.46,288.24 72.48,288.24 73.55,289.02 74.69,289.12 75.91,289.67 77.21,289.62 78.60,290.42 79.66,290.88 80.80,290.81 82.00,291.24 83.25,291.40 84.52,291.07 85.81,291.90 87.09,291.93 88.34,291.84 89.55,291.75 90.70,292.63 92.06,292.41 93.37,292.73 94.63,292.94 95.88,292.84 97.10,293.06 98.32,292.60 99.55,292.97 100.80,292.65 102.06,293.08 103.33,293.00 104.59,292.25 105.85,292.22 107.11,292.23 108.37,292.84 109.64,292.30 110.90,292.41 112.17,292.07 113.45,292.21 114.73,292.06 116.01,291.98 117.29,292.14 118.55,292.09 119.79,292.32 121.00,292.06 122.34,292.22 123.64,292.10 124.92,292.17 126.18,291.82 127.46,291.28 128.76,291.79 130.10,291.72 131.31,291.47 132.55,290.94 133.81,290.80 135.09,290.07 136.37,290.34 137.65,289.83 138.93,289.32 140.20,288.91 141.50,289.47 142.87,289.49 144.26,288.62 145.63,289.20 146.96,288.78 148.20,288.43 149.33,288.38 150.30,288.54 151.68,287.77 152.55,285.88 153.30,285.22 154.30,283.79 155.40,283.91 156.64,283.22 157.94,283.45 159.22,283.30 160.40,282.60 161.75,282.77 163.03,281.94 164.24,281.42 165.40,281.29 166.28,279.95 167.11,279.00 167.91,278.01 168.70,277.11 169.50,275.89 170.80,275.13 172.09,275.65 173.50,274.93 174.72,275.30 176.05,275.08 177.38,274.38 178.60,274.06 179.68,273.50 180.67,272.83 181.63,271.95 182.60,271.15 183.93,270.07 185.26,269.26 186.60,268.51 187.62,269.09 188.65,270.59 189.68,271.45 190.70,272.32 192.04,272.86 193.36,271.85 194.70,271.74 195.72,271.78 196.75,272.95 197.78,274.10 198.80,274.67 199.61,276.12 200.41,277.14 201.20,277.69 202.00,279.27 202.80,280.17 203.57,281.38 204.30,282.12 205.05,283.46 205.87,284.47 206.80,284.77 207.72,285.55 208.76,286.83 209.85,287.79 210.94,287.82 211.98,288.65 212.90,289.38 214.05,290.08 215.03,291.06 215.94,291.76 216.90,292.18 218.41,292.02 219.93,290.82 221.00,290.19" fill="none" stroke="#000" stroke-width="1.6" stroke-linejoin="round"/>
<text x="73.6" y="272.6" font-size="7.5" text-anchor="start" font-weight="normal" fill="#1a1a1a" textLength="71.2" lengthAdjust="spacingAndGlyphs">Raji WT + Rtx + SSG</text>
<rect x="26.70" y="296.20" width="194.50" height="31.90" fill="#fff"/>
<polygon points="44.20,328.1 44.20,327.90 44.78,327.21 45.60,326.28 46.54,325.13 47.48,323.80 48.30,322.30 48.73,321.25 49.13,320.07 49.51,318.80 49.87,317.47 50.22,316.11 50.58,314.76 50.93,313.45 51.30,312.20 51.73,310.81 52.15,309.40 52.58,307.99 53.01,306.63 53.44,305.34 53.87,304.16 54.30,303.10 55.07,301.46 55.85,300.07 56.63,299.04 57.40,298.50 58.41,298.67 59.40,299.63 60.40,301.10 60.89,302.01 61.36,303.10 61.83,304.31 62.32,305.60 62.84,306.91 63.40,308.20 63.92,309.32 64.47,310.49 65.03,311.69 65.62,312.89 66.23,314.06 66.86,315.17 67.50,316.20 68.25,317.31 68.99,318.36 69.75,319.34 70.57,320.26 71.48,321.11 72.50,321.90 73.39,322.52 74.24,323.10 75.12,323.62 76.12,324.10 77.31,324.54 78.78,324.94 80.60,325.14 81.53,325.21 82.55,325.52 83.64,325.50 84.80,325.57 86.02,325.88 87.29,326.29 88.60,326.32 89.94,326.38 91.31,326.14 92.69,326.40 94.08,326.31 95.47,326.31 96.84,326.33 98.19,326.44 99.52,326.92 100.80,326.90 102.06,326.91 103.33,326.93 104.60,326.57 105.87,326.64 107.15,326.82 108.42,326.86 109.69,326.91 110.96,326.90 112.23,326.40 113.50,326.68 114.76,326.69 116.02,326.56 117.27,326.34 118.52,326.50 119.76,326.26 121.00,326.76 122.24,326.72 123.51,326.54 124.79,326.41 126.08,326.79 127.38,326.61 128.67,326.82 129.96,326.82 131.23,326.64 132.48,326.61 133.71,326.74 134.91,326.66 136.06,326.51 137.18,326.60 138.24,326.91 139.25,326.44 140.20,326.43 141.90,326.73 143.36,326.46 144.65,326.53 145.82,326.40 146.91,326.21 147.99,326.48 149.10,325.86 150.30,325.85 151.51,325.56 152.64,325.62 153.73,325.20 154.84,325.03 156.02,325.04 157.31,324.57 158.75,324.51 160.40,324.54 161.39,323.97 162.47,323.86 163.62,323.87 164.83,324.10 166.09,323.92 167.39,323.60 168.71,323.58 170.04,323.41 171.37,323.50 172.69,323.19 173.97,323.53 175.22,323.60 176.42,323.60 177.55,323.45 178.60,323.58 180.07,323.03 181.44,323.24 182.74,323.71 183.98,323.69 185.16,323.58 186.30,324.03 187.41,323.97 188.51,324.22 189.60,324.04 190.70,324.11 192.06,324.44 193.37,324.44 194.63,324.79 195.88,325.35 197.10,325.19 198.32,325.21 199.55,325.43 200.80,325.70 202.06,326.26 203.33,326.21 204.59,326.37 205.85,326.45 207.11,327.16 208.38,326.99 209.64,327.01 210.90,327.04 212.23,327.12 213.66,327.24 215.13,327.58 216.58,327.28 217.95,327.22 219.19,327.49 220.22,327.34 221.00,327.80 221.00,328.1" fill="#e6e6e6"/>
<polyline points="44.20,327.90 44.78,327.21 45.60,326.28 46.54,325.13 47.48,323.80 48.30,322.30 48.73,321.25 49.13,320.07 49.51,318.80 49.87,317.47 50.22,316.11 50.58,314.76 50.93,313.45 51.30,312.20 51.73,310.81 52.15,309.40 52.58,307.99 53.01,306.63 53.44,305.34 53.87,304.16 54.30,303.10 55.07,301.46 55.85,300.07 56.63,299.04 57.40,298.50 58.41,298.67 59.40,299.63 60.40,301.10 60.89,302.01 61.36,303.10 61.83,304.31 62.32,305.60 62.84,306.91 63.40,308.20 63.92,309.32 64.47,310.49 65.03,311.69 65.62,312.89 66.23,314.06 66.86,315.17 67.50,316.20 68.25,317.31 68.99,318.36 69.75,319.34 70.57,320.26 71.48,321.11 72.50,321.90 73.39,322.52 74.24,323.10 75.12,323.62 76.12,324.10 77.31,324.54 78.78,324.94 80.60,325.14 81.53,325.21 82.55,325.52 83.64,325.50 84.80,325.57 86.02,325.88 87.29,326.29 88.60,326.32 89.94,326.38 91.31,326.14 92.69,326.40 94.08,326.31 95.47,326.31 96.84,326.33 98.19,326.44 99.52,326.92 100.80,326.90 102.06,326.91 103.33,326.93 104.60,326.57 105.87,326.64 107.15,326.82 108.42,326.86 109.69,326.91 110.96,326.90 112.23,326.40 113.50,326.68 114.76,326.69 116.02,326.56 117.27,326.34 118.52,326.50 119.76,326.26 121.00,326.76 122.24,326.72 123.51,326.54 124.79,326.41 126.08,326.79 127.38,326.61 128.67,326.82 129.96,326.82 131.23,326.64 132.48,326.61 133.71,326.74 134.91,326.66 136.06,326.51 137.18,326.60 138.24,326.91 139.25,326.44 140.20,326.43 141.90,326.73 143.36,326.46 144.65,326.53 145.82,326.40 146.91,326.21 147.99,326.48 149.10,325.86 150.30,325.85 151.51,325.56 152.64,325.62 153.73,325.20 154.84,325.03 156.02,325.04 157.31,324.57 158.75,324.51 160.40,324.54 161.39,323.97 162.47,323.86 163.62,323.87 164.83,324.10 166.09,323.92 167.39,323.60 168.71,323.58 170.04,323.41 171.37,323.50 172.69,323.19 173.97,323.53 175.22,323.60 176.42,323.60 177.55,323.45 178.60,323.58 180.07,323.03 181.44,323.24 182.74,323.71 183.98,323.69 185.16,323.58 186.30,324.03 187.41,323.97 188.51,324.22 189.60,324.04 190.70,324.11 192.06,324.44 193.37,324.44 194.63,324.79 195.88,325.35 197.10,325.19 198.32,325.21 199.55,325.43 200.80,325.70 202.06,326.26 203.33,326.21 204.59,326.37 205.85,326.45 207.11,327.16 208.38,326.99 209.64,327.01 210.90,327.04 212.23,327.12 213.66,327.24 215.13,327.58 216.58,327.28 217.95,327.22 219.19,327.49 220.22,327.34 221.00,327.80" fill="none" stroke="#000" stroke-width="1.6" stroke-linejoin="round"/>
<text x="73.6" y="304.4" font-size="7.5" text-anchor="start" font-weight="normal" fill="#1a1a1a" textLength="46.1" lengthAdjust="spacingAndGlyphs">Raji WT + Rtx</text>
<rect x="26.70" y="328.10" width="194.50" height="32.10" fill="#fff"/>
<polygon points="51.30,360.2 51.30,360.00 52.17,359.09 53.30,357.30 53.62,356.42 53.93,355.40 54.23,354.26 54.55,353.02 54.90,351.70 55.30,350.30 55.64,349.17 56.02,347.92 56.43,346.61 56.85,345.26 57.27,343.90 57.68,342.59 58.06,341.34 58.40,340.20 58.80,338.80 59.15,337.46 59.47,336.21 59.77,335.05 60.08,334.01 60.40,333.10 61.05,331.61 61.70,330.58 62.40,330.10 63.56,330.54 64.80,332.10 65.32,333.03 65.84,334.16 66.38,335.43 66.94,336.77 67.50,338.10 67.97,339.22 68.44,340.39 68.92,341.58 69.41,342.79 69.94,344.00 70.50,345.20 71.10,346.42 71.72,347.68 72.37,348.94 73.05,350.16 73.76,351.30 74.50,352.30 75.42,353.34 76.37,354.25 77.37,355.04 78.44,355.72 79.60,356.30 80.94,356.74 82.45,357.04 83.99,357.25 85.42,357.45 86.60,357.70 88.40,358.54 89.70,359.30 91.39,359.75 92.70,360.00 92.70,360.2" fill="#fff"/>
<polyline points="51.30,360.00 52.17,359.09 53.30,357.30 53.62,356.42 53.93,355.40 54.23,354.26 54.55,353.02 54.90,351.70 55.30,350.30 55.64,349.17 56.02,347.92 56.43,346.61 56.85,345.26 57.27,343.90 57.68,342.59 58.06,341.34 58.40,340.20 58.80,338.80 59.15,337.46 59.47,336.21 59.77,335.05 60.08,334.01 60.40,333.10 61.05,331.61 61.70,330.58 62.40,330.10 63.56,330.54 64.80,332.10 65.32,333.03 65.84,334.16 66.38,335.43 66.94,336.77 67.50,338.10 67.97,339.22 68.44,340.39 68.92,341.58 69.41,342.79 69.94,344.00 70.50,345.20 71.10,346.42 71.72,347.68 72.37,348.94 73.05,350.16 73.76,351.30 74.50,352.30 75.42,353.34 76.37,354.25 77.37,355.04 78.44,355.72 79.60,356.30 80.94,356.74 82.45,357.04 83.99,357.25 85.42,357.45 86.60,357.70 88.40,358.54 89.70,359.30 91.39,359.75 92.70,360.00" fill="none" stroke="#000" stroke-width="1.6" stroke-linejoin="round"/>
<text x="73.6" y="335.8" font-size="7.5" text-anchor="start" font-weight="normal" fill="#1a1a1a" textLength="25.6" lengthAdjust="spacingAndGlyphs">Raji WT</text>
<line x1="26.2" y1="165.2" x2="221.7" y2="165.2" stroke="#111" stroke-width="1"/>
<line x1="26.2" y1="200.4" x2="221.7" y2="200.4" stroke="#111" stroke-width="1"/>
<line x1="26.2" y1="232.3" x2="221.7" y2="232.3" stroke="#111" stroke-width="1"/>
<line x1="26.2" y1="264.3" x2="221.7" y2="264.3" stroke="#111" stroke-width="1"/>
<line x1="26.2" y1="296.2" x2="221.7" y2="296.2" stroke="#111" stroke-width="1"/>
<line x1="26.2" y1="328.1" x2="221.7" y2="328.1" stroke="#111" stroke-width="1"/>
<line x1="26.2" y1="360.2" x2="221.7" y2="360.2" stroke="#111" stroke-width="1"/>
<line x1="26.7" y1="164.7" x2="26.7" y2="360.7" stroke="#111" stroke-width="1"/>
<line x1="221.2" y1="164.7" x2="221.2" y2="360.7" stroke="#111" stroke-width="1"/>
<line x1="39.5" y1="360" x2="39.5" y2="364.2" stroke="#111" stroke-width="1"/>
<line x1="73.3" y1="360" x2="73.3" y2="364.2" stroke="#111" stroke-width="1"/>
<line x1="103.0" y1="360" x2="103.0" y2="364.2" stroke="#111" stroke-width="1"/>
<line x1="156.4" y1="360" x2="156.4" y2="364.2" stroke="#111" stroke-width="1"/>
<line x1="202.8" y1="360" x2="202.8" y2="364.2" stroke="#111" stroke-width="1"/>
<line x1="41.9" y1="360" x2="41.9" y2="362.6" stroke="#1a1a1a" stroke-width="0.95"/>
<line x1="44.2" y1="360" x2="44.2" y2="362.6" stroke="#1a1a1a" stroke-width="0.95"/>
<line x1="46.4" y1="360" x2="46.4" y2="362.6" stroke="#1a1a1a" stroke-width="0.95"/>
<line x1="48.5" y1="360" x2="48.5" y2="362.6" stroke="#1a1a1a" stroke-width="0.95"/>
<line x1="50.7" y1="360" x2="50.7" y2="362.6" stroke="#1a1a1a" stroke-width="0.95"/>
<line x1="52.8" y1="360" x2="52.8" y2="362.6" stroke="#1a1a1a" stroke-width="0.95"/>
<line x1="56.3" y1="360" x2="56.3" y2="362.6" stroke="#1a1a1a" stroke-width="0.95"/>
<line x1="59.7" y1="360" x2="59.7" y2="362.6" stroke="#1a1a1a" stroke-width="0.95"/>
<line x1="63.2" y1="360" x2="63.2" y2="362.6" stroke="#1a1a1a" stroke-width="0.95"/>
<line x1="66.7" y1="360" x2="66.7" y2="362.6" stroke="#1a1a1a" stroke-width="0.95"/>
<line x1="67.8" y1="360" x2="67.8" y2="362.6" stroke="#1a1a1a" stroke-width="0.95"/>
<line x1="69.2" y1="360" x2="69.2" y2="362.6" stroke="#1a1a1a" stroke-width="0.95"/>
<line x1="70.6" y1="360" x2="70.6" y2="362.6" stroke="#1a1a1a" stroke-width="0.95"/>
<line x1="71.8" y1="360" x2="71.8" y2="362.6" stroke="#1a1a1a" stroke-width="0.95"/>
<line x1="75" y1="360" x2="75" y2="362.6" stroke="#1a1a1a" stroke-width="0.95"/>
<line x1="76.2" y1="360" x2="76.2" y2="362.6" stroke="#1a1a1a" stroke-width="0.95"/>
<line x1="81.4" y1="360" x2="81.4" y2="362.6" stroke="#1a1a1a" stroke-width="0.95"/>
<line x1="84.8" y1="360" x2="84.8" y2="362.6" stroke="#1a1a1a" stroke-width="0.95"/>
<line x1="87.4" y1="360" x2="87.4" y2="362.6" stroke="#1a1a1a" stroke-width="0.95"/>
<line x1="90.9" y1="360" x2="90.9" y2="362.6" stroke="#1a1a1a" stroke-width="0.95"/>
<line x1="93.5" y1="360" x2="93.5" y2="362.6" stroke="#1a1a1a" stroke-width="0.95"/>
<line x1="96.1" y1="360" x2="96.1" y2="362.6" stroke="#1a1a1a" stroke-width="0.95"/>
<line x1="98.7" y1="360" x2="98.7" y2="362.6" stroke="#1a1a1a" stroke-width="0.95"/>
<line x1="100.7" y1="360" x2="100.7" y2="362.6" stroke="#1a1a1a" stroke-width="0.95"/>
<line x1="119.1" y1="360" x2="119.1" y2="362.6" stroke="#1a1a1a" stroke-width="0.95"/>
<line x1="128.5" y1="360" x2="128.5" y2="362.6" stroke="#1a1a1a" stroke-width="0.95"/>
<line x1="135.2" y1="360" x2="135.2" y2="362.6" stroke="#1a1a1a" stroke-width="0.95"/>
<line x1="140.3" y1="360" x2="140.3" y2="362.6" stroke="#1a1a1a" stroke-width="0.95"/>
<line x1="144.6" y1="360" x2="144.6" y2="362.6" stroke="#1a1a1a" stroke-width="0.95"/>
<line x1="148.1" y1="360" x2="148.1" y2="362.6" stroke="#1a1a1a" stroke-width="0.95"/>
<line x1="151.2" y1="360" x2="151.2" y2="362.6" stroke="#1a1a1a" stroke-width="0.95"/>
<line x1="154" y1="360" x2="154" y2="362.6" stroke="#1a1a1a" stroke-width="0.95"/>
<line x1="170.4" y1="360" x2="170.4" y2="362.6" stroke="#1a1a1a" stroke-width="0.95"/>
<line x1="178.5" y1="360" x2="178.5" y2="362.6" stroke="#1a1a1a" stroke-width="0.95"/>
<line x1="184.3" y1="360" x2="184.3" y2="362.6" stroke="#1a1a1a" stroke-width="0.95"/>
<line x1="188.8" y1="360" x2="188.8" y2="362.6" stroke="#1a1a1a" stroke-width="0.95"/>
<line x1="192.5" y1="360" x2="192.5" y2="362.6" stroke="#1a1a1a" stroke-width="0.95"/>
<line x1="195.6" y1="360" x2="195.6" y2="362.6" stroke="#1a1a1a" stroke-width="0.95"/>
<line x1="198.3" y1="360" x2="198.3" y2="362.6" stroke="#1a1a1a" stroke-width="0.95"/>
<line x1="200.7" y1="360" x2="200.7" y2="362.6" stroke="#1a1a1a" stroke-width="0.95"/>
<line x1="216.8" y1="360" x2="216.8" y2="362.6" stroke="#1a1a1a" stroke-width="0.95"/>
<text x="35.6" y="373.8" font-size="7.0" text-anchor="middle" fill="#111">−10<tspan font-size="5.04" dy="-2.6">3</tspan></text>
<text x="73.3" y="373.8" font-size="7.0" text-anchor="middle" font-weight="normal" fill="#111">0</text>
<text x="102.6" y="373.8" font-size="7.0" text-anchor="middle" fill="#111">10<tspan font-size="5.04" dy="-2.6">3</tspan></text>
<text x="158.0" y="373.8" font-size="7.0" text-anchor="middle" fill="#111">10<tspan font-size="5.04" dy="-2.6">4</tspan></text>
<text x="206.0" y="373.8" font-size="7.0" text-anchor="middle" fill="#111">10<tspan font-size="5.04" dy="-2.6">5</tspan></text>
<text x="126.6" y="385.5" font-size="9.3" text-anchor="middle" font-weight="normal" fill="#222" textLength="9.2" lengthAdjust="spacingAndGlyphs" class="s">DiD</text>
<text x="271.6" y="228.1" font-size="10.8" text-anchor="start" font-weight="bold" fill="#000">D</text>
<rect x="350.00" y="239.00" width="99.70" height="112.30" fill="#ebebeb"/>
<line x1="297.5" y1="351.30" x2="301.0" y2="351.30" stroke="#262626" stroke-width="1"/>
<text x="294.7" y="354.20" font-size="8.3" text-anchor="end" font-weight="normal" fill="#111">0</text>
<line x1="297.5" y1="323.30" x2="301.0" y2="323.30" stroke="#262626" stroke-width="1"/>
<text x="294.7" y="326.20" font-size="8.3" text-anchor="end" font-weight="normal" fill="#111">20</text>
<line x1="297.5" y1="295.30" x2="301.0" y2="295.30" stroke="#262626" stroke-width="1"/>
<text x="294.7" y="298.20" font-size="8.3" text-anchor="end" font-weight="normal" fill="#111">40</text>
<line x1="297.5" y1="267.30" x2="301.0" y2="267.30" stroke="#262626" stroke-width="1"/>
<text x="294.7" y="270.20" font-size="8.3" text-anchor="end" font-weight="normal" fill="#111">60</text>
<line x1="297.5" y1="239.30" x2="301.0" y2="239.30" stroke="#262626" stroke-width="1"/>
<text x="294.7" y="242.20" font-size="8.3" text-anchor="end" font-weight="normal" fill="#111">80</text>
<text class="s" transform="translate(280.2,296.9) rotate(-90) scale(0.6783,1)" x="0" y="0" font-size="8.8" text-anchor="middle" fill="#111">Neutrophil cytotoxicity (%)</text>
<text x="308.0" y="236.5" font-size="7.3" text-anchor="start" font-weight="normal" fill="#111" textLength="29.5" lengthAdjust="spacingAndGlyphs">Wild type</text>
<text x="354.1" y="227.7" font-size="7.3" text-anchor="start" font-weight="normal" fill="#111" textLength="35.9" lengthAdjust="spacingAndGlyphs">Wild type +</text>
<text x="354.1" y="236.6" font-size="7.3" text-anchor="start" font-weight="normal" fill="#111" textLength="33.9" lengthAdjust="spacingAndGlyphs">Anti-SIRPα</text>
<text x="409.5" y="236.6" font-size="7.3" text-anchor="start" font-weight="normal" fill="#111" textLength="28.6" lengthAdjust="spacingAndGlyphs">CD47KO</text>
<line x1="349.9" y1="239" x2="349.9" y2="351" stroke="#6a6a6a" stroke-width="1.25" stroke-dasharray="1.3,1.4"/>
<line x1="398.4" y1="239" x2="398.4" y2="351" stroke="#6a6a6a" stroke-width="1.25" stroke-dasharray="1.3,1.4"/>
<rect x="315.75" y="350.95" width="8.10" height="0.35" fill="#5c2a6e" stroke="#4e1c60" stroke-width="0.7"/>
<rect x="329.55" y="350.35" width="8.00" height="0.95" fill="#c8142e" stroke="#b80c26" stroke-width="0.7"/>
<line x1="333.55" y1="347.40" x2="333.55" y2="350.00" stroke="#444" stroke-width="1"/>
<line x1="331.25" y1="347.90" x2="335.85" y2="347.90" stroke="#444" stroke-width="1"/>
<rect x="340.05" y="349.25" width="8.10" height="2.05" fill="#5c2a6e" stroke="#4e1c60" stroke-width="0.7"/>
<line x1="344.10" y1="346.20" x2="344.10" y2="348.90" stroke="#444" stroke-width="1"/>
<line x1="341.80" y1="346.70" x2="346.40" y2="346.70" stroke="#444" stroke-width="1"/>
<rect x="377.05" y="346.35" width="8.40" height="4.95" fill="#c8142e" stroke="#b80c26" stroke-width="0.7"/>
<line x1="381.25" y1="343.20" x2="381.25" y2="346.00" stroke="#444" stroke-width="1"/>
<line x1="378.95" y1="343.70" x2="383.55" y2="343.70" stroke="#444" stroke-width="1"/>
<rect x="387.65" y="330.45" width="8.40" height="20.85" fill="#5c2a6e" stroke="#4e1c60" stroke-width="0.7"/>
<line x1="391.85" y1="324.80" x2="391.85" y2="330.10" stroke="#444" stroke-width="1"/>
<line x1="389.55" y1="325.30" x2="394.15" y2="325.30" stroke="#444" stroke-width="1"/>
<rect x="411.55" y="336.75" width="8.20" height="14.55" fill="#5c2a6e" stroke="#4e1c60" stroke-width="0.7"/>
<line x1="415.65" y1="332.80" x2="415.65" y2="336.40" stroke="#444" stroke-width="1"/>
<line x1="413.35" y1="333.30" x2="417.95" y2="333.30" stroke="#444" stroke-width="1"/>
<rect x="425.35" y="338.95" width="7.90" height="12.35" fill="#c8142e" stroke="#b80c26" stroke-width="0.7"/>
<line x1="429.30" y1="333.70" x2="429.30" y2="338.60" stroke="#444" stroke-width="1"/>
<line x1="427.00" y1="334.20" x2="431.60" y2="334.20" stroke="#444" stroke-width="1"/>
<rect x="435.35" y="284.45" width="8.30" height="66.85" fill="#5c2a6e" stroke="#4e1c60" stroke-width="0.7"/>
<line x1="439.50" y1="274.40" x2="439.50" y2="284.10" stroke="#444" stroke-width="1"/>
<line x1="437.20" y1="274.90" x2="441.80" y2="274.90" stroke="#444" stroke-width="1"/>
<line x1="300.8" y1="234.8" x2="300.8" y2="351.9" stroke="#262626" stroke-width="1.4"/>
<line x1="300.1" y1="351.4" x2="449.7" y2="351.4" stroke="#262626" stroke-width="1.3"/>
<text x="314.1" y="363.0" font-size="9.2" text-anchor="middle" font-weight="normal" fill="#111">–</text>
<text x="339.4" y="363.0" font-size="9.2" text-anchor="middle" font-weight="normal" fill="#111">Rtx</text>
<text x="362.7" y="363.0" font-size="9.2" text-anchor="middle" font-weight="normal" fill="#111">–</text>
<text x="388.0" y="363.0" font-size="9.2" text-anchor="middle" font-weight="normal" fill="#111">Rtx</text>
<text x="410.4" y="363.0" font-size="9.2" text-anchor="middle" font-weight="normal" fill="#111">–</text>
<text x="436.4" y="363.0" font-size="9.2" text-anchor="middle" font-weight="normal" fill="#111">Rtx</text>
<circle cx="385.80" cy="318.00" r="1.05" fill="#2a2a2a"/>
<line x1="379.90" y1="321.2" x2="393.20" y2="321.2" stroke="#555" stroke-width="1"/>
<circle cx="411.41" cy="254.80" r="1.05" fill="#2a2a2a"/>
<circle cx="414.24" cy="254.80" r="1.05" fill="#2a2a2a"/>
<circle cx="417.06" cy="254.80" r="1.05" fill="#2a2a2a"/>
<circle cx="419.89" cy="254.80" r="1.05" fill="#2a2a2a"/>
<polyline points="391.5,290.6 391.5,257.8 439,257.8 439,261.2" fill="none" stroke="#555" stroke-width="1"/>
<circle cx="430.38" cy="268.10" r="1.05" fill="#2a2a2a"/>
<circle cx="433.12" cy="268.10" r="1.05" fill="#2a2a2a"/>
<circle cx="435.88" cy="268.10" r="1.05" fill="#2a2a2a"/>
<circle cx="438.62" cy="268.10" r="1.05" fill="#2a2a2a"/>
<line x1="428.10" y1="270.6" x2="440.30" y2="270.6" stroke="#555" stroke-width="1"/>
<text x="6.6" y="394.6" font-size="10.8" text-anchor="start" font-weight="bold" fill="#000">E</text>
<rect x="101.50" y="423.00" width="98.50" height="113.30" fill="#ebebeb"/>
<line x1="48.6" y1="536.30" x2="51.3" y2="536.30" stroke="#262626" stroke-width="1"/>
<text x="45.9" y="538.90" font-size="7.6" text-anchor="end" font-weight="normal" fill="#111" textLength="14.8" lengthAdjust="spacingAndGlyphs">0.00</text>
<line x1="48.6" y1="508.22" x2="51.3" y2="508.22" stroke="#262626" stroke-width="1"/>
<text x="45.9" y="510.82" font-size="7.6" text-anchor="end" font-weight="normal" fill="#111" textLength="14.8" lengthAdjust="spacingAndGlyphs">0.03</text>
<line x1="48.6" y1="480.14" x2="51.3" y2="480.14" stroke="#262626" stroke-width="1"/>
<text x="45.9" y="482.74" font-size="7.6" text-anchor="end" font-weight="normal" fill="#111" textLength="14.8" lengthAdjust="spacingAndGlyphs">0.06</text>
<line x1="48.6" y1="452.06" x2="51.3" y2="452.06" stroke="#262626" stroke-width="1"/>
<text x="45.9" y="454.66" font-size="7.6" text-anchor="end" font-weight="normal" fill="#111" textLength="14.8" lengthAdjust="spacingAndGlyphs">0.09</text>
<line x1="48.6" y1="423.98" x2="51.3" y2="423.98" stroke="#262626" stroke-width="1"/>
<text x="45.9" y="426.58" font-size="7.6" text-anchor="end" font-weight="normal" fill="#111" textLength="14.8" lengthAdjust="spacingAndGlyphs">0.12</text>
<text class="s" transform="translate(13.1,478.0) rotate(-90) scale(0.7560,1)" x="0" y="0" font-size="8.5" text-anchor="middle" fill="#111">Neutrophil cytotoxicity relative</text>
<text class="s" transform="translate(25.2,478.0) rotate(-90) scale(0.7496,1)" x="0" y="0" font-size="8.4" text-anchor="middle" fill="#111">to CD47 expression</text>
<text x="56.1" y="421.2" font-size="9.0" text-anchor="start" font-weight="normal" fill="#111" textLength="36.9" lengthAdjust="spacingAndGlyphs">Wild type</text>
<text x="104.5" y="421.2" font-size="9.2" text-anchor="start" font-weight="normal" fill="#111" textLength="37.4" lengthAdjust="spacingAndGlyphs">CD47KO</text>
<text x="174.0" y="410.0" font-size="9.5" text-anchor="middle" font-weight="normal" fill="#111" textLength="24.3" lengthAdjust="spacingAndGlyphs">CD47</text>
<text x="174.4" y="421.0" font-size="8.9" text-anchor="middle" font-weight="normal" fill="#111" textLength="31.8" lengthAdjust="spacingAndGlyphs">reconst.</text>
<line x1="101.5" y1="423" x2="101.5" y2="536" stroke="#6a6a6a" stroke-width="1.25" stroke-dasharray="1.3,1.4"/>
<line x1="148.4" y1="423" x2="148.4" y2="536" stroke="#6a6a6a" stroke-width="1.25" stroke-dasharray="1.3,1.4"/>
<polyline points="94.5,501.7 94.5,494.6 188.4,494.6 188.4,501.9" fill="none" stroke="#666" stroke-width="1.2"/>
<line x1="71.30" y1="534.90" x2="71.30" y2="536.30" stroke="#444" stroke-width="1"/>
<line x1="69.00" y1="535.40" x2="73.60" y2="535.40" stroke="#444" stroke-width="1"/>
<rect x="80.65" y="535.35" width="8.00" height="0.95" fill="#c8142e" stroke="#b80c26" stroke-width="0.7"/>
<line x1="84.65" y1="534.30" x2="84.65" y2="535.00" stroke="#444" stroke-width="1"/>
<line x1="82.35" y1="534.80" x2="86.95" y2="534.80" stroke="#444" stroke-width="1"/>
<rect x="90.15" y="535.05" width="8.60" height="1.25" fill="#5c2a6e" stroke="#4e1c60" stroke-width="0.7"/>
<line x1="94.45" y1="533.90" x2="94.45" y2="534.70" stroke="#444" stroke-width="1"/>
<line x1="92.15" y1="534.40" x2="96.75" y2="534.40" stroke="#444" stroke-width="1"/>
<rect x="103.10" y="526.00" width="8.40" height="10.30" fill="#fff" stroke="#222" stroke-width="1"/>
<line x1="107.30" y1="516.80" x2="107.30" y2="525.50" stroke="#444" stroke-width="1"/>
<line x1="105.00" y1="517.30" x2="109.60" y2="517.30" stroke="#444" stroke-width="1"/>
<rect x="114.05" y="519.25" width="8.30" height="17.05" fill="#5c2a6e" stroke="#4e1c60" stroke-width="0.7"/>
<line x1="118.20" y1="511.40" x2="118.20" y2="518.90" stroke="#444" stroke-width="1"/>
<line x1="115.90" y1="511.90" x2="120.50" y2="511.90" stroke="#444" stroke-width="1"/>
<rect x="126.55" y="505.25" width="8.40" height="31.05" fill="#c8142e" stroke="#b80c26" stroke-width="0.7"/>
<line x1="130.75" y1="496.30" x2="130.75" y2="504.90" stroke="#444" stroke-width="1"/>
<line x1="128.45" y1="496.80" x2="133.05" y2="496.80" stroke="#444" stroke-width="1"/>
<rect x="137.25" y="465.45" width="8.50" height="70.85" fill="#5c2a6e" stroke="#4e1c60" stroke-width="0.7"/>
<line x1="141.50" y1="453.10" x2="141.50" y2="465.10" stroke="#444" stroke-width="1"/>
<line x1="139.20" y1="453.60" x2="143.80" y2="453.60" stroke="#444" stroke-width="1"/>
<rect x="149.10" y="534.50" width="9.20" height="1.80" fill="#fff" stroke="#222" stroke-width="1"/>
<line x1="153.70" y1="532.40" x2="153.70" y2="534.00" stroke="#444" stroke-width="1"/>
<line x1="151.40" y1="532.90" x2="156.00" y2="532.90" stroke="#444" stroke-width="1"/>
<rect x="161.05" y="529.55" width="8.40" height="6.75" fill="#5c2a6e" stroke="#4e1c60" stroke-width="0.7"/>
<line x1="165.25" y1="526.80" x2="165.25" y2="529.20" stroke="#444" stroke-width="1"/>
<line x1="162.95" y1="527.30" x2="167.55" y2="527.30" stroke="#444" stroke-width="1"/>
<rect x="173.55" y="527.55" width="8.20" height="8.75" fill="#c8142e" stroke="#b80c26" stroke-width="0.7"/>
<line x1="177.65" y1="523.40" x2="177.65" y2="527.20" stroke="#444" stroke-width="1"/>
<line x1="175.35" y1="523.90" x2="179.95" y2="523.90" stroke="#444" stroke-width="1"/>
<rect x="184.45" y="516.75" width="8.10" height="19.55" fill="#5c2a6e" stroke="#4e1c60" stroke-width="0.7"/>
<line x1="188.50" y1="512.40" x2="188.50" y2="516.40" stroke="#444" stroke-width="1"/>
<line x1="186.20" y1="512.90" x2="190.80" y2="512.90" stroke="#444" stroke-width="1"/>
<line x1="51.1" y1="419.7" x2="51.1" y2="536.9" stroke="#262626" stroke-width="1.4"/>
<line x1="50.4" y1="536.4" x2="199.8" y2="536.4" stroke="#262626" stroke-width="1.3"/>
<text x="64.1" y="546.9" font-size="7.1" text-anchor="middle" font-weight="normal" fill="#111">–</text>
<text x="89.6" y="546.9" font-size="7.1" text-anchor="middle" font-weight="normal" fill="#111">Rtx</text>
<text x="113.3" y="546.9" font-size="7.1" text-anchor="middle" font-weight="normal" fill="#111">–</text>
<text x="136.5" y="546.9" font-size="7.1" text-anchor="middle" font-weight="normal" fill="#111">Rtx</text>
<text x="159.5" y="546.9" font-size="7.1" text-anchor="middle" font-weight="normal" fill="#111">–</text>
<text x="183.9" y="546.9" font-size="7.1" text-anchor="middle" font-weight="normal" fill="#111">Rtx</text>
<polyline points="94.5,479.1 94.5,429.8 142.3,429.8 142.3,439.6" fill="none" stroke="#666" stroke-width="1.2"/>
<polyline points="142.3,434.4 189.6,434.4 189.6,485" fill="none" stroke="#666" stroke-width="1.2"/>
<circle cx="112.24" cy="436.20" r="1.05" fill="#2a2a2a"/>
<circle cx="115.11" cy="436.20" r="1.05" fill="#2a2a2a"/>
<circle cx="117.99" cy="436.20" r="1.05" fill="#2a2a2a"/>
<circle cx="120.86" cy="436.20" r="1.05" fill="#2a2a2a"/>
<circle cx="161.62" cy="431.20" r="1.05" fill="#2a2a2a"/>
<circle cx="164.25" cy="431.20" r="1.05" fill="#2a2a2a"/>
<circle cx="166.88" cy="431.20" r="1.05" fill="#2a2a2a"/>
<circle cx="137.05" cy="446.20" r="1.05" fill="#2a2a2a"/>
<circle cx="139.55" cy="446.20" r="1.05" fill="#2a2a2a"/>
<line x1="133.60" y1="448.5" x2="141.80" y2="448.5" stroke="#555" stroke-width="1"/>
<text x="108.3" y="493.4" font-size="7.5" text-anchor="middle" font-weight="normal" fill="#222" textLength="7.4" lengthAdjust="spacingAndGlyphs">ns</text>
<text x="272.0" y="385.3" font-size="10.8" text-anchor="start" font-weight="bold" fill="#000">F</text>
<polygon points="316.00,532.30 316.21,531.69 316.51,530.87 316.88,529.57 317.30,527.50 317.44,526.67 317.59,525.76 317.75,524.77 317.92,523.70 318.09,522.57 318.27,521.38 318.45,520.14 318.63,518.85 318.81,517.52 318.99,516.15 319.16,514.76 319.33,513.34 319.50,511.90 319.62,510.84 319.73,509.73 319.85,508.59 319.96,507.42 320.08,506.22 320.19,505.00 320.30,503.75 320.41,502.49 320.53,501.22 320.64,499.95 320.75,498.67 320.86,497.39 320.96,496.12 321.07,494.86 321.18,493.61 321.29,492.38 321.39,491.18 321.50,490.00 321.62,488.69 321.74,487.38 321.86,486.08 321.99,484.77 322.11,483.48 322.23,482.19 322.35,480.91 322.47,479.64 322.59,478.38 322.70,477.13 322.81,475.90 322.92,474.68 323.02,473.48 323.12,472.30 323.21,471.14 323.30,470.00 323.40,468.63 323.48,467.29 323.56,465.99 323.63,464.71 323.69,463.46 323.75,462.22 323.80,461.01 323.86,459.81 323.92,458.62 323.98,457.43 324.04,456.26 324.12,455.08 324.20,453.90 324.30,452.60 324.41,451.27 324.52,449.92 324.63,448.57 324.75,447.23 324.88,445.91 325.00,444.63 325.12,443.41 325.25,442.25 325.37,441.17 325.49,440.18 325.60,439.30 325.94,437.25 326.28,435.88 326.61,434.94 326.90,434.20 327.36,433.81 327.80,433.50 328.16,432.17 328.56,430.43 329.00,429.00 329.76,427.80 330.60,427.40 331.54,427.74 332.40,429.30 332.60,430.23 332.75,431.33 332.88,432.61 333.00,434.06 333.14,435.69 333.30,437.50 333.40,438.51 333.50,439.64 333.62,440.86 333.73,442.14 333.85,443.47 333.98,444.82 334.09,446.17 334.21,447.49 334.32,448.77 334.43,449.98 334.52,451.10 334.60,452.10 334.72,453.78 334.81,455.15 334.87,456.34 334.93,457.46 335.00,458.64 335.10,460.00 335.20,461.05 335.30,462.01 335.41,462.95 335.53,463.96 335.66,465.09 335.80,466.42 335.94,468.04 336.10,470.00 336.16,470.91 336.23,471.89 336.29,472.94 336.36,474.06 336.42,475.23 336.49,476.45 336.56,477.72 336.62,479.01 336.70,480.34 336.77,481.68 336.84,483.04 336.92,484.40 337.01,485.76 337.09,487.11 337.18,488.44 337.27,489.75 337.37,491.03 337.48,492.26 337.59,493.46 337.70,494.60 337.85,495.99 338.02,497.38 338.19,498.77 338.37,500.15 338.56,501.51 338.76,502.86 338.96,504.19 339.17,505.49 339.38,506.77 339.59,508.01 339.80,509.21 340.00,510.37 340.21,511.48 340.41,512.54 340.61,513.55 340.80,514.50 341.17,516.22 341.54,517.74 341.91,519.07 342.27,520.24 342.63,521.30 342.99,522.26 343.34,523.15 343.70,524.00 344.40,525.42 345.07,526.44 345.77,527.23 346.50,528.00 347.57,528.97 348.69,529.77 349.80,530.50 350.99,531.22 352.17,531.86 353.00,532.30" fill="rgba(0,0,0,0.11)"/>
<polygon points="327.30,532.30 328.03,531.91 329.09,531.38 330.29,530.74 331.49,530.00 332.50,529.20 333.29,528.36 333.96,527.48 334.59,526.49 335.24,525.35 336.00,524.00 336.56,523.02 337.17,521.93 337.82,520.75 338.48,519.52 339.13,518.25 339.75,516.98 340.32,515.72 340.80,514.50 341.21,513.28 341.56,512.02 341.86,510.74 342.13,509.47 342.37,508.23 342.59,507.06 342.80,505.97 343.00,505.00 343.36,503.42 343.63,502.19 343.86,501.12 344.10,500.00 344.40,498.38 344.69,496.81 345.00,495.40 345.59,493.76 346.20,492.30 346.73,490.79 347.30,489.20 347.78,487.89 348.31,486.50 348.80,485.40 349.41,484.67 350.00,484.20 350.64,483.41 351.30,482.50 351.99,481.28 352.70,480.40 353.44,480.74 354.20,481.50 355.00,482.17 355.80,482.70 356.58,482.63 357.30,482.70 357.93,483.61 358.50,485.00 358.87,486.21 359.23,487.58 359.60,488.80 360.18,490.03 360.80,491.20 361.29,492.21 361.81,493.34 362.30,494.60 362.70,496.02 363.07,497.57 363.50,499.20 363.89,500.50 364.31,501.87 364.76,503.24 365.20,504.50 365.70,505.78 366.21,506.94 367.00,508.70 367.42,509.66 367.90,510.77 368.43,512.00 369.00,513.30 369.58,514.62 370.17,515.93 370.75,517.17 371.30,518.30 371.89,519.49 372.47,520.64 373.04,521.74 373.62,522.79 374.22,523.80 374.84,524.77 375.50,525.70 376.37,526.75 377.33,527.77 378.33,528.73 379.30,529.61 380.18,530.37 380.90,531.00 382.29,531.98 383.00,532.30" fill="rgba(0,0,0,0.22)"/>
<polyline points="316.00,532.30 316.21,531.69 316.51,530.87 316.88,529.57 317.30,527.50 317.44,526.67 317.59,525.76 317.75,524.77 317.92,523.70 318.09,522.57 318.27,521.38 318.45,520.14 318.63,518.85 318.81,517.52 318.99,516.15 319.16,514.76 319.33,513.34 319.50,511.90 319.62,510.84 319.73,509.73 319.85,508.59 319.96,507.42 320.08,506.22 320.19,505.00 320.30,503.75 320.41,502.49 320.53,501.22 320.64,499.95 320.75,498.67 320.86,497.39 320.96,496.12 321.07,494.86 321.18,493.61 321.29,492.38 321.39,491.18 321.50,490.00 321.62,488.69 321.74,487.38 321.86,486.08 321.99,484.77 322.11,483.48 322.23,482.19 322.35,480.91 322.47,479.64 322.59,478.38 322.70,477.13 322.81,475.90 322.92,474.68 323.02,473.48 323.12,472.30 323.21,471.14 323.30,470.00 323.40,468.63 323.48,467.29 323.56,465.99 323.63,464.71 323.69,463.46 323.75,462.22 323.80,461.01 323.86,459.81 323.92,458.62 323.98,457.43 324.04,456.26 324.12,455.08 324.20,453.90 324.30,452.60 324.41,451.27 324.52,449.92 324.63,448.57 324.75,447.23 324.88,445.91 325.00,444.63 325.12,443.41 325.25,442.25 325.37,441.17 325.49,440.18 325.60,439.30 325.94,437.25 326.28,435.88 326.61,434.94 326.90,434.20 327.36,433.81 327.80,433.50 328.16,432.17 328.56,430.43 329.00,429.00 329.76,427.80 330.60,427.40 331.54,427.74 332.40,429.30 332.60,430.23 332.75,431.33 332.88,432.61 333.00,434.06 333.14,435.69 333.30,437.50 333.40,438.51 333.50,439.64 333.62,440.86 333.73,442.14 333.85,443.47 333.98,444.82 334.09,446.17 334.21,447.49 334.32,448.77 334.43,449.98 334.52,451.10 334.60,452.10 334.72,453.78 334.81,455.15 334.87,456.34 334.93,457.46 335.00,458.64 335.10,460.00 335.20,461.05 335.30,462.01 335.41,462.95 335.53,463.96 335.66,465.09 335.80,466.42 335.94,468.04 336.10,470.00 336.16,470.91 336.23,471.89 336.29,472.94 336.36,474.06 336.42,475.23 336.49,476.45 336.56,477.72 336.62,479.01 336.70,480.34 336.77,481.68 336.84,483.04 336.92,484.40 337.01,485.76 337.09,487.11 337.18,488.44 337.27,489.75 337.37,491.03 337.48,492.26 337.59,493.46 337.70,494.60 337.85,495.99 338.02,497.38 338.19,498.77 338.37,500.15 338.56,501.51 338.76,502.86 338.96,504.19 339.17,505.49 339.38,506.77 339.59,508.01 339.80,509.21 340.00,510.37 340.21,511.48 340.41,512.54 340.61,513.55 340.80,514.50 341.17,516.22 341.54,517.74 341.91,519.07 342.27,520.24 342.63,521.30 342.99,522.26 343.34,523.15 343.70,524.00 344.40,525.42 345.07,526.44 345.77,527.23 346.50,528.00 347.57,528.97 348.69,529.77 349.80,530.50 350.99,531.22 352.17,531.86 353.00,532.30" fill="none" stroke="#000" stroke-width="1.3" stroke-linejoin="round"/>
<polyline points="327.30,532.30 328.03,531.91 329.09,531.38 330.29,530.74 331.49,530.00 332.50,529.20 333.29,528.36 333.96,527.48 334.59,526.49 335.24,525.35 336.00,524.00 336.56,523.02 337.17,521.93 337.82,520.75 338.48,519.52 339.13,518.25 339.75,516.98 340.32,515.72 340.80,514.50 341.21,513.28 341.56,512.02 341.86,510.74 342.13,509.47 342.37,508.23 342.59,507.06 342.80,505.97 343.00,505.00 343.36,503.42 343.63,502.19 343.86,501.12 344.10,500.00 344.40,498.38 344.69,496.81 345.00,495.40 345.59,493.76 346.20,492.30 346.73,490.79 347.30,489.20 347.78,487.89 348.31,486.50 348.80,485.40 349.41,484.67 350.00,484.20 350.64,483.41 351.30,482.50 351.99,481.28 352.70,480.40 353.44,480.74 354.20,481.50 355.00,482.17 355.80,482.70 356.58,482.63 357.30,482.70 357.93,483.61 358.50,485.00 358.87,486.21 359.23,487.58 359.60,488.80 360.18,490.03 360.80,491.20 361.29,492.21 361.81,493.34 362.30,494.60 362.70,496.02 363.07,497.57 363.50,499.20 363.89,500.50 364.31,501.87 364.76,503.24 365.20,504.50 365.70,505.78 366.21,506.94 367.00,508.70 367.42,509.66 367.90,510.77 368.43,512.00 369.00,513.30 369.58,514.62 370.17,515.93 370.75,517.17 371.30,518.30 371.89,519.49 372.47,520.64 373.04,521.74 373.62,522.79 374.22,523.80 374.84,524.77 375.50,525.70 376.37,526.75 377.33,527.77 378.33,528.73 379.30,529.61 380.18,530.37 380.90,531.00 382.29,531.98 383.00,532.30" fill="none" stroke="#000" stroke-width="1.3" stroke-linejoin="round"/>
<polyline points="357.00,532.30 357.48,532.18 358.50,531.60 359.40,531.00 360.54,530.24 361.74,529.23 362.80,527.90 363.33,526.96 363.84,525.89 364.33,524.71 364.80,523.45 365.23,522.13 365.64,520.77 366.00,519.40 366.25,518.32 366.47,517.21 366.67,516.07 366.85,514.91 367.02,513.71 367.17,512.50 367.32,511.25 367.46,509.99 367.60,508.70 367.72,507.53 367.84,506.34 367.95,505.14 368.05,503.92 368.14,502.68 368.24,501.41 368.33,500.12 368.42,498.78 368.51,497.41 368.60,496.00 368.67,494.89 368.75,493.77 368.82,492.63 368.89,491.47 368.96,490.30 369.03,489.10 369.10,487.88 369.17,486.64 369.24,485.37 369.31,484.07 369.37,482.75 369.44,481.39 369.50,480.00 369.55,478.91 369.59,477.81 369.63,476.68 369.66,475.54 369.70,474.37 369.73,473.19 369.76,472.00 369.80,470.79 369.83,469.57 369.86,468.33 369.90,467.09 369.94,465.83 369.98,464.56 370.03,463.28 370.08,461.99 370.14,460.70 370.20,459.40 370.26,458.22 370.33,457.03 370.39,455.81 370.47,454.58 370.54,453.34 370.62,452.09 370.70,450.82 370.79,449.55 370.87,448.28 370.96,447.00 371.04,445.72 371.13,444.44 371.21,443.16 371.30,441.89 371.38,440.63 371.47,439.38 371.55,438.14 371.62,436.91 371.70,435.70 371.78,434.42 371.85,433.12 371.93,431.82 372.01,430.50 372.08,429.18 372.16,427.86 372.23,426.55 372.30,425.25 372.38,423.96 372.45,422.68 372.52,421.44 372.59,420.21 372.66,419.02 372.73,417.87 372.80,416.76 372.87,415.69 372.93,414.67 373.00,413.70 373.13,411.89 373.24,410.23 373.36,408.70 373.46,407.29 373.57,406.00 373.69,404.83 373.81,403.76 373.95,402.78 374.10,401.90 374.65,399.93 375.27,398.90 375.90,398.60 376.53,398.90 377.17,399.93 377.70,401.90 377.84,402.78 377.96,403.76 378.07,404.83 378.16,406.00 378.25,407.29 378.33,408.70 378.42,410.23 378.50,411.89 378.60,413.70 378.65,414.67 378.70,415.69 378.75,416.76 378.80,417.87 378.84,419.02 378.89,420.21 378.94,421.44 378.99,422.68 379.04,423.96 379.09,425.25 379.14,426.55 379.19,427.86 379.24,429.18 379.29,430.50 379.34,431.82 379.39,433.12 379.45,434.42 379.50,435.70 379.55,436.91 379.61,438.14 379.67,439.38 379.72,440.63 379.78,441.89 379.84,443.16 379.90,444.44 379.96,445.72 380.03,447.00 380.09,448.28 380.15,449.55 380.21,450.82 380.27,452.09 380.33,453.34 380.38,454.58 380.44,455.81 380.50,457.03 380.55,458.22 380.60,459.40 380.65,460.70 380.71,461.99 380.76,463.28 380.80,464.56 380.85,465.83 380.90,467.09 380.94,468.33 380.98,469.57 381.03,470.79 381.07,472.00 381.11,473.19 381.16,474.37 381.20,475.54 381.25,476.68 381.30,477.81 381.35,478.91 381.40,480.00 381.47,481.38 381.54,482.72 381.60,484.01 381.67,485.27 381.74,486.49 381.81,487.70 381.89,488.89 381.96,490.06 382.04,491.24 382.12,492.41 382.21,493.59 382.30,494.79 382.40,496.00 382.50,497.24 382.61,498.49 382.72,499.76 382.83,501.04 382.94,502.31 383.06,503.59 383.19,504.85 383.31,506.10 383.44,507.32 383.58,508.52 383.71,509.69 383.86,510.81 384.00,511.90 384.21,513.41 384.43,514.88 384.65,516.31 384.88,517.68 385.12,518.99 385.37,520.25 385.63,521.44 385.91,522.56 386.20,523.60 386.78,525.28 387.41,526.74 388.07,527.99 388.74,529.07 389.40,530.00 390.59,531.16 391.77,531.86 392.60,532.30" fill="none" stroke="#000" stroke-width="1.3" stroke-linejoin="round"/>
<rect x="284.8" y="391.3" width="149" height="141.1" fill="none" stroke="#111" stroke-width="1.1"/>
<rect x="289.5" y="395.3" width="4.8" height="4.6" fill="#fff" stroke="#333" stroke-width="0.8"/>
<rect x="289.5" y="403.6" width="4.8" height="4.6" fill="#e3e3e3" stroke="#333" stroke-width="0.8"/>
<rect x="289.5" y="412.5" width="4.8" height="4.6" fill="#bdbdbd" stroke="#333" stroke-width="0.8"/>
<text x="297.7" y="399.9" font-size="7" text-anchor="start" font-weight="normal" fill="#111" textLength="29.0" lengthAdjust="spacingAndGlyphs">Wild type</text>
<text x="297.7" y="408.3" font-size="7" text-anchor="start" font-weight="normal" fill="#111">CD47KO</text>
<text x="297.7" y="416.9" font-size="7" text-anchor="start" font-weight="normal" fill="#111" textLength="60.8" lengthAdjust="spacingAndGlyphs">CD47 reconstituted</text>
<line x1="294.2" y1="532.3" x2="294.2" y2="536.5" stroke="#111" stroke-width="1"/>
<line x1="320.8" y1="532.3" x2="320.8" y2="536.5" stroke="#111" stroke-width="1"/>
<line x1="342.6" y1="532.3" x2="342.6" y2="536.5" stroke="#111" stroke-width="1"/>
<line x1="383.5" y1="532.3" x2="383.5" y2="536.5" stroke="#111" stroke-width="1"/>
<line x1="419.2" y1="532.3" x2="419.2" y2="536.5" stroke="#111" stroke-width="1"/>
<line x1="296.7" y1="532.3" x2="296.7" y2="534.8" stroke="#1a1a1a" stroke-width="0.95"/>
<line x1="299" y1="532.3" x2="299" y2="534.8" stroke="#1a1a1a" stroke-width="0.95"/>
<line x1="301.3" y1="532.3" x2="301.3" y2="534.8" stroke="#1a1a1a" stroke-width="0.95"/>
<line x1="303.6" y1="532.3" x2="303.6" y2="534.8" stroke="#1a1a1a" stroke-width="0.95"/>
<line x1="305.3" y1="532.3" x2="305.3" y2="534.8" stroke="#1a1a1a" stroke-width="0.95"/>
<line x1="307" y1="532.3" x2="307" y2="534.8" stroke="#1a1a1a" stroke-width="0.95"/>
<line x1="308.8" y1="532.3" x2="308.8" y2="534.8" stroke="#1a1a1a" stroke-width="0.95"/>
<line x1="310.5" y1="532.3" x2="310.5" y2="534.8" stroke="#1a1a1a" stroke-width="0.95"/>
<line x1="312.2" y1="532.3" x2="312.2" y2="534.8" stroke="#1a1a1a" stroke-width="0.95"/>
<line x1="313.6" y1="532.3" x2="313.6" y2="534.8" stroke="#1a1a1a" stroke-width="0.95"/>
<line x1="315.7" y1="532.3" x2="315.7" y2="534.8" stroke="#1a1a1a" stroke-width="0.95"/>
<line x1="316.8" y1="532.3" x2="316.8" y2="534.8" stroke="#1a1a1a" stroke-width="0.95"/>
<line x1="317.8" y1="532.3" x2="317.8" y2="534.8" stroke="#1a1a1a" stroke-width="0.95"/>
<line x1="318.9" y1="532.3" x2="318.9" y2="534.8" stroke="#1a1a1a" stroke-width="0.95"/>
<line x1="322" y1="532.3" x2="322" y2="534.8" stroke="#1a1a1a" stroke-width="0.95"/>
<line x1="323.8" y1="532.3" x2="323.8" y2="534.8" stroke="#1a1a1a" stroke-width="0.95"/>
<line x1="326" y1="532.3" x2="326" y2="534.8" stroke="#1a1a1a" stroke-width="0.95"/>
<line x1="327.8" y1="532.3" x2="327.8" y2="534.8" stroke="#1a1a1a" stroke-width="0.95"/>
<line x1="329.5" y1="532.3" x2="329.5" y2="534.8" stroke="#1a1a1a" stroke-width="0.95"/>
<line x1="331.3" y1="532.3" x2="331.3" y2="534.8" stroke="#1a1a1a" stroke-width="0.95"/>
<line x1="333.6" y1="532.3" x2="333.6" y2="534.8" stroke="#1a1a1a" stroke-width="0.95"/>
<line x1="335.5" y1="532.3" x2="335.5" y2="534.8" stroke="#1a1a1a" stroke-width="0.95"/>
<line x1="337.6" y1="532.3" x2="337.6" y2="534.8" stroke="#1a1a1a" stroke-width="0.95"/>
<line x1="339.6" y1="532.3" x2="339.6" y2="534.8" stroke="#1a1a1a" stroke-width="0.95"/>
<line x1="354.9" y1="532.3" x2="354.9" y2="534.8" stroke="#1a1a1a" stroke-width="0.95"/>
<line x1="362.1" y1="532.3" x2="362.1" y2="534.8" stroke="#1a1a1a" stroke-width="0.95"/>
<line x1="367.2" y1="532.3" x2="367.2" y2="534.8" stroke="#1a1a1a" stroke-width="0.95"/>
<line x1="371.2" y1="532.3" x2="371.2" y2="534.8" stroke="#1a1a1a" stroke-width="0.95"/>
<line x1="374.4" y1="532.3" x2="374.4" y2="534.8" stroke="#1a1a1a" stroke-width="0.95"/>
<line x1="377.2" y1="532.3" x2="377.2" y2="534.8" stroke="#1a1a1a" stroke-width="0.95"/>
<line x1="379.5" y1="532.3" x2="379.5" y2="534.8" stroke="#1a1a1a" stroke-width="0.95"/>
<line x1="381.6" y1="532.3" x2="381.6" y2="534.8" stroke="#1a1a1a" stroke-width="0.95"/>
<line x1="394.2" y1="532.3" x2="394.2" y2="534.8" stroke="#1a1a1a" stroke-width="0.95"/>
<line x1="400.5" y1="532.3" x2="400.5" y2="534.8" stroke="#1a1a1a" stroke-width="0.95"/>
<line x1="405" y1="532.3" x2="405" y2="534.8" stroke="#1a1a1a" stroke-width="0.95"/>
<line x1="408.4" y1="532.3" x2="408.4" y2="534.8" stroke="#1a1a1a" stroke-width="0.95"/>
<line x1="411.2" y1="532.3" x2="411.2" y2="534.8" stroke="#1a1a1a" stroke-width="0.95"/>
<line x1="413.6" y1="532.3" x2="413.6" y2="534.8" stroke="#1a1a1a" stroke-width="0.95"/>
<line x1="415.7" y1="532.3" x2="415.7" y2="534.8" stroke="#1a1a1a" stroke-width="0.95"/>
<line x1="417.5" y1="532.3" x2="417.5" y2="534.8" stroke="#1a1a1a" stroke-width="0.95"/>
<line x1="430" y1="532.3" x2="430" y2="534.8" stroke="#1a1a1a" stroke-width="0.95"/>
<text x="293.7" y="545.2" font-size="7.0" text-anchor="middle" fill="#111">−10<tspan font-size="5.04" dy="-2.6">3</tspan></text>
<text x="321.2" y="545.2" font-size="7.0" text-anchor="middle" font-weight="normal" fill="#111">0</text>
<text x="344.2" y="545.2" font-size="7.0" text-anchor="middle" fill="#111">10<tspan font-size="5.04" dy="-2.6">3</tspan></text>
<text x="386.5" y="545.2" font-size="7.0" text-anchor="middle" fill="#111">10<tspan font-size="5.04" dy="-2.6">4</tspan></text>
<text x="423.2" y="545.2" font-size="7.0" text-anchor="middle" fill="#111">10<tspan font-size="5.04" dy="-2.6">5</tspan></text>
<text x="363.2" y="554.9" font-size="8.6" text-anchor="middle" font-weight="normal" fill="#222" textLength="14.4" lengthAdjust="spacingAndGlyphs" class="s">CD47</text>
<rect x="0.6" y="0.6" width="518.8" height="562.8" fill="none" stroke="#000" stroke-width="1.3"/>
</svg>
</body></html>
